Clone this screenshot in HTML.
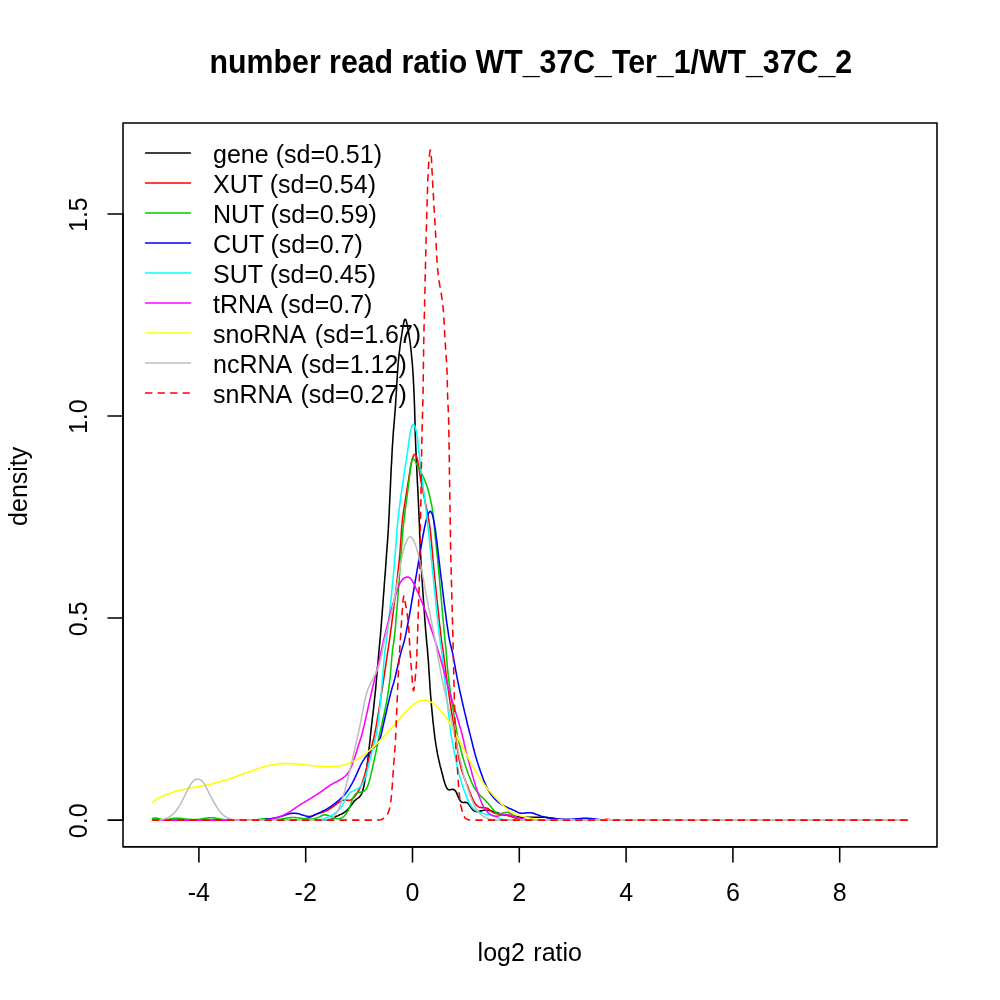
<!DOCTYPE html>
<html><head><meta charset="utf-8"><title>number read ratio</title>
<style>
html,body{margin:0;padding:0;background:#fff;}
svg{display:block;}
text{font-family:"Liberation Sans",sans-serif;fill:#000;}
</style></head><body>
<svg width="1000" height="1000" viewBox="0 0 1000 1000">
<rect width="1000" height="1000" fill="#fff"/>

<g fill="none" stroke-width="1.5625" stroke-linecap="round" stroke-linejoin="round">
<path d="M152.6,820.1 L157.1,820.1 L161.5,820.1 L166.0,820.1 L170.5,820.1 L175.0,820.1 L179.4,820.1 L183.9,820.1 L188.4,820.1 L192.9,820.1 L197.3,820.1 L201.8,820.1 L206.3,820.1 L210.8,820.1 L215.2,820.1 L219.7,820.1 L224.2,820.1 L228.7,820.1 L233.1,820.1 L237.6,820.1 L242.1,820.1 L246.6,820.1 L250.0,820.1 L250.9,820.1 L254.8,820.1 L258.8,820.1 L262.7,820.1 L266.6,820.1 L270.5,820.1 L274.5,820.1 L278.4,820.1 L282.3,820.1 L286.2,820.1 L290.2,820.1 L294.1,820.1 L298.0,820.1 L301.9,820.1 L305.9,820.1 L309.8,820.1 L313.7,820.1 L317.6,820.1 L321.6,820.1 L325.0,820.1 L325.2,820.1 L326.7,819.9 L327.9,819.8 L328.9,819.6 L329.8,819.4 L330.5,819.1 L330.6,819.1 L331.4,818.8 L332.2,818.4 L333.0,818.0 L333.8,817.6 L334.6,817.2 L334.6,817.2 L335.5,816.8 L336.3,816.4 L337.2,816.0 L338.1,815.6 L338.1,815.6 L338.9,815.2 L339.8,814.8 L340.7,814.4 L341.6,814.0 L342.2,813.7 L342.4,813.6 L343.2,813.1 L344.0,812.6 L344.8,812.1 L345.5,811.5 L345.8,811.3 L346.2,810.9 L346.9,810.3 L347.6,809.6 L348.3,808.9 L349.0,808.2 L349.0,808.1 L349.6,807.5 L350.2,806.7 L350.8,805.9 L351.4,805.1 L352.0,804.3 L352.0,804.3 L352.6,803.5 L353.2,802.6 L353.8,801.8 L354.4,801.0 L355.0,800.4 L355.1,800.4 L355.7,799.8 L356.4,799.2 L357.2,798.7 L357.9,798.2 L358.0,798.1 L358.6,797.7 L359.3,797.1 L359.9,796.4 L360.6,795.6 L361.0,795.0 L361.1,794.7 L361.7,793.6 L362.2,792.4 L362.6,791.1 L363.0,789.6 L363.4,788.1 L363.8,786.6 L364.0,785.3 L364.1,785.0 L364.4,783.5 L364.7,781.9 L364.9,780.4 L365.2,778.8 L365.4,777.2 L365.6,775.6 L365.9,774.0 L366.0,773.2 L366.1,772.4 L366.3,770.7 L366.6,769.1 L366.8,767.4 L367.0,765.6 L367.3,763.9 L367.5,762.0 L367.8,760.2 L368.0,758.3 L368.0,758.1 L368.2,756.3 L368.5,754.3 L368.7,752.3 L368.9,750.3 L369.1,748.3 L369.3,746.4 L369.5,744.6 L369.7,742.8 L369.9,741.1 L370.0,740.4 L370.1,739.6 L370.2,738.2 L370.3,736.8 L370.5,735.4 L370.6,734.0 L370.8,732.6 L370.9,730.9 L371.0,730.1 L371.1,729.1 L371.4,727.1 L371.6,724.9 L371.9,722.5 L372.2,719.9 L372.5,717.2 L372.9,714.3 L373.2,711.3 L373.6,708.3 L373.9,705.1 L374.3,701.8 L374.6,698.5 L375.0,695.2 L375.3,691.8 L375.5,690.2 L375.7,688.3 L376.0,684.9 L376.3,681.5 L376.6,678.1 L376.9,674.8 L377.2,671.6 L377.5,668.5 L377.7,665.5 L378.0,662.6 L378.2,659.9 L378.4,657.4 L378.6,655.1 L378.8,653.0 L378.9,651.1 L379.0,650.4 L379.1,649.5 L379.2,648.2 L379.3,646.9 L379.5,645.7 L379.6,644.3 L379.8,642.8 L379.9,640.9 L380.0,640.0 L380.1,638.7 L380.4,636.0 L380.6,633.0 L380.9,629.6 L381.2,625.9 L381.5,621.9 L381.8,617.7 L382.2,613.3 L382.5,608.7 L382.9,604.0 L383.2,599.2 L383.6,594.3 L384.0,589.4 L384.3,584.6 L384.7,579.8 L385.0,575.2 L385.4,570.6 L385.7,566.3 L386.0,562.1 L386.3,558.2 L386.5,555.3 L386.5,554.6 L386.8,551.3 L387.0,548.2 L387.2,545.4 L387.4,542.8 L387.6,540.3 L387.8,537.8 L387.9,535.5 L388.1,533.1 L388.2,530.7 L388.4,528.2 L388.5,525.6 L388.7,522.7 L388.8,520.1 L388.8,519.7 L389.0,516.5 L389.2,513.0 L389.3,509.3 L389.5,505.4 L389.7,501.4 L389.9,497.2 L390.1,493.0 L390.3,488.6 L390.5,484.2 L390.7,479.8 L390.9,475.3 L391.1,470.9 L391.3,466.5 L391.6,462.2 L391.8,458.0 L392.0,453.8 L392.2,449.8 L392.4,446.0 L392.7,442.4 L392.8,440.2 L392.9,438.9 L393.1,435.7 L393.3,432.7 L393.5,429.8 L393.8,427.1 L394.0,424.4 L394.2,421.9 L394.4,419.4 L394.6,417.0 L394.8,414.5 L395.0,412.1 L395.2,409.6 L395.4,407.0 L395.5,405.2 L395.6,404.3 L395.7,401.5 L395.9,398.7 L396.1,395.7 L396.3,392.7 L396.5,389.7 L396.6,386.6 L396.8,383.5 L397.0,380.4 L397.2,377.3 L397.4,374.2 L397.6,371.2 L397.8,368.3 L398.0,365.4 L398.3,362.6 L398.3,362.2 L398.5,359.9 L398.8,357.3 L399.0,354.8 L399.3,352.4 L399.6,350.1 L399.9,347.8 L400.1,345.7 L400.4,343.6 L400.7,341.5 L401.0,339.5 L401.3,337.6 L401.4,336.9 L401.6,335.7 L401.9,333.8 L402.1,332.0 L402.4,330.3 L402.7,328.6 L402.9,327.1 L403.2,325.6 L403.4,324.3 L403.5,324.2 L403.7,323.1 L403.9,322.0 L404.2,321.1 L404.4,320.3 L404.6,319.9 L404.7,319.8 L404.9,319.4 L405.1,319.2 L405.3,319.2 L405.4,319.2 L405.6,319.4 L405.8,319.8 L406.0,320.2 L406.1,320.4 L406.3,321.2 L406.6,322.1 L406.8,323.1 L407.0,324.2 L407.1,324.6 L407.3,325.4 L407.6,326.7 L407.8,328.1 L408.1,329.6 L408.4,331.1 L408.7,332.8 L408.9,334.5 L409.2,336.3 L409.2,336.4 L409.5,338.2 L409.8,340.2 L410.1,342.2 L410.3,344.4 L410.6,346.6 L410.9,348.9 L411.1,351.3 L411.4,353.8 L411.6,356.3 L411.9,359.0 L412.1,361.7 L412.2,362.3 L412.4,364.5 L412.6,367.4 L412.8,370.4 L413.0,373.4 L413.2,376.4 L413.4,379.5 L413.5,382.5 L413.7,385.6 L413.8,388.7 L414.0,391.7 L414.1,394.7 L414.2,397.6 L414.3,400.4 L414.4,403.2 L414.5,405.1 L414.5,405.9 L414.6,408.5 L414.7,411.0 L414.7,413.5 L414.8,415.9 L414.9,418.4 L414.9,420.9 L415.0,423.4 L415.0,426.0 L415.1,428.7 L415.2,431.5 L415.3,434.5 L415.4,437.7 L415.5,440.3 L415.5,441.1 L415.7,444.7 L415.8,448.4 L416.0,452.4 L416.2,456.5 L416.4,460.7 L416.6,465.0 L416.8,469.3 L417.0,473.7 L417.2,478.2 L417.4,482.6 L417.7,487.0 L417.9,491.4 L418.1,495.7 L418.3,499.9 L418.5,504.0 L418.7,507.9 L418.8,511.6 L419.0,515.2 L419.1,518.6 L419.2,520.1 L419.3,521.7 L419.4,524.5 L419.5,527.2 L419.6,529.8 L419.6,532.2 L419.7,534.6 L419.8,537.0 L419.9,539.4 L420.0,541.9 L420.1,544.5 L420.2,547.2 L420.3,550.2 L420.5,553.4 L420.6,555.3 L420.7,556.9 L420.9,560.7 L421.1,564.7 L421.4,569.0 L421.7,573.5 L422.0,578.1 L422.3,582.9 L422.6,587.7 L422.9,592.5 L423.3,597.4 L423.6,602.2 L424.0,606.9 L424.3,611.6 L424.6,616.0 L424.9,620.3 L425.2,624.4 L425.5,628.2 L425.8,631.7 L426.1,634.9 L426.3,637.7 L426.5,640.0 L426.5,640.1 L426.7,642.1 L426.8,643.8 L427.0,645.2 L427.1,646.5 L427.3,647.8 L427.4,649.1 L427.5,650.5 L427.5,650.7 L427.7,652.4 L427.8,654.5 L428.0,656.7 L428.2,659.1 L428.4,661.6 L428.6,664.3 L428.7,666.9 L428.9,669.6 L429.1,672.3 L429.3,675.0 L429.4,677.5 L429.6,680.0 L429.6,680.0 L429.7,682.3 L429.9,684.4 L430.0,686.5 L430.1,688.5 L430.3,690.5 L430.4,692.4 L430.5,694.3 L430.7,696.3 L430.9,698.4 L431.0,700.3 L431.0,700.6 L431.2,702.9 L431.4,705.3 L431.7,707.8 L431.9,710.3 L432.2,712.9 L432.4,715.5 L432.7,718.0 L432.9,720.6 L433.2,723.1 L433.5,725.5 L433.7,727.9 L434.0,730.1 L434.0,730.1 L434.2,732.2 L434.5,734.2 L434.7,736.1 L434.9,737.9 L435.2,739.6 L435.4,741.2 L435.6,742.8 L435.9,744.4 L436.0,745.3 L436.1,745.9 L436.4,747.4 L436.6,749.0 L436.9,750.5 L437.2,752.0 L437.4,753.4 L437.7,754.9 L438.0,756.2 L438.0,756.3 L438.3,757.7 L438.6,759.1 L438.9,760.4 L439.2,761.7 L439.5,763.0 L439.8,764.3 L440.0,765.2 L440.1,765.6 L440.4,766.9 L440.8,768.1 L441.1,769.4 L441.4,770.6 L441.7,771.9 L442.0,773.1 L442.0,773.1 L442.4,774.3 L442.7,775.6 L443.0,776.8 L443.3,778.0 L443.6,779.3 L443.9,780.4 L444.0,780.4 L444.3,781.6 L444.7,782.7 L445.0,783.8 L445.4,784.9 L445.8,785.9 L446.0,786.4 L446.2,786.8 L446.6,787.7 L447.1,788.5 L447.6,789.1 L448.1,789.5 L448.1,789.6 L448.7,789.8 L449.3,789.9 L449.9,789.8 L450.0,789.8 L450.5,789.7 L451.2,789.5 L451.8,789.4 L452.1,789.4 L452.4,789.4 L453.0,789.4 L453.6,789.6 L453.9,789.7 L454.2,789.8 L454.7,790.2 L455.2,790.7 L455.7,791.3 L456.0,791.8 L456.2,792.1 L456.6,792.9 L457.0,793.9 L457.4,794.9 L457.8,795.9 L458.0,796.3 L458.2,796.9 L458.7,797.9 L459.1,798.8 L459.5,799.6 L460.0,800.3 L460.0,800.4 L460.5,801.0 L461.0,801.6 L461.5,802.0 L462.0,802.3 L462.1,802.3 L462.7,802.4 L463.3,802.5 L463.9,802.4 L464.0,802.4 L464.5,802.4 L465.2,802.4 L465.8,802.4 L466.0,802.4 L466.4,802.6 L467.0,802.8 L467.6,803.2 L468.0,803.5 L468.1,803.7 L468.7,804.2 L469.2,804.9 L469.7,805.6 L470.1,806.1 L470.2,806.3 L470.7,807.1 L471.2,807.8 L471.7,808.5 L472.1,808.9 L472.2,809.1 L472.8,809.7 L473.3,810.2 L473.8,810.6 L474.0,810.7 L474.3,810.9 L474.9,811.2 L475.5,811.4 L475.9,811.5 L476.1,811.5 L476.7,811.6 L477.4,811.6 L477.9,811.5 L478.0,811.5 L478.8,811.4 L479.5,811.2 L480.3,811.1 L480.3,811.0 L481.1,810.9 L481.9,810.7 L482.7,810.5 L483.6,810.3 L484.0,810.3 L484.4,810.2 L485.3,810.2 L486.2,810.2 L487.1,810.2 L487.9,810.3 L487.9,810.3 L488.8,810.4 L489.7,810.6 L490.7,810.8 L491.6,811.0 L492.0,811.1 L492.5,811.2 L493.4,811.5 L494.3,811.8 L495.2,812.1 L496.0,812.3 L496.1,812.4 L497.0,812.7 L497.9,813.0 L498.8,813.3 L499.8,813.6 L500.1,813.7 L500.7,813.9 L501.6,814.2 L502.5,814.5 L503.5,814.7 L504.5,814.9 L505.0,815.0 L505.5,815.1 L506.5,815.3 L507.5,815.4 L508.5,815.5 L509.5,815.6 L510.0,815.7 L510.6,815.7 L511.6,815.8 L512.6,815.9 L513.6,816.0 L514.6,816.2 L514.9,816.2 L515.5,816.3 L516.4,816.5 L517.4,816.7 L518.4,816.9 L519.4,817.0 L519.9,817.1 L520.6,817.1 L521.9,817.2 L523.2,817.3 L524.7,817.3 L526.2,817.3 L527.8,817.3 L529.4,817.3 L530.2,817.3 L531.1,817.3 L532.9,817.3 L534.6,817.2 L536.4,817.2 L538.1,817.2 L539.9,817.2 L541.6,817.2 L543.3,817.3 L544.9,817.3 L544.9,817.3 L546.5,817.4 L548.1,817.6 L549.6,817.7 L551.0,817.9 L552.5,818.1 L553.8,818.3 L555.1,818.5 L555.1,818.5 L556.4,818.7 L557.6,818.9 L558.8,819.1 L559.9,819.2 L561.0,819.4 L561.9,819.5 L562.0,819.6 L563.0,819.7 L564.1,819.8 L565.2,819.9 L566.5,820.0 L568.0,820.0 L569.8,820.1 L570.0,820.1 L574.6,820.1 L579.8,820.1 L584.9,820.1 L590.1,820.1 L595.3,820.1 L600.4,820.1 L605.6,820.1 L610.8,820.1 L615.9,820.1 L621.1,820.1 L626.3,820.1 L631.4,820.1 L636.6,820.1 L641.8,820.1 L647.0,820.1 L652.1,820.1 L657.3,820.1 L662.5,820.1 L667.6,820.1 L672.8,820.1 L678.0,820.1 L683.1,820.1 L688.3,820.1 L693.5,820.1 L698.6,820.1 L700.0,820.1 L704.8,820.1 L711.3,820.1 L717.9,820.1 L724.4,820.1 L730.9,820.1 L737.4,820.1 L743.9,820.1 L750.5,820.1 L757.0,820.1 L763.5,820.1 L770.0,820.1 L776.6,820.1 L783.1,820.1 L789.6,820.1 L796.1,820.1 L802.6,820.1 L809.2,820.1 L815.7,820.1 L822.2,820.1 L828.7,820.1 L835.3,820.1 L841.8,820.1 L848.3,820.1 L854.8,820.1 L861.3,820.1 L867.9,820.1 L874.4,820.1 L880.9,820.1 L887.4,820.1 L894.0,820.1 L900.5,820.1 L907.0,820.1" stroke="#000000"/>
<path d="M152.6,820.1 L157.1,820.1 L161.7,820.1 L166.2,820.1 L170.7,820.1 L175.3,820.1 L179.8,820.1 L184.3,820.1 L188.9,820.1 L193.4,820.1 L197.9,820.1 L202.5,820.1 L207.0,820.1 L211.5,820.1 L216.1,820.1 L220.6,820.1 L225.1,820.1 L229.7,820.1 L234.2,820.1 L238.7,820.1 L243.3,820.1 L247.8,820.1 L250.0,820.1 L251.6,820.1 L254.8,820.1 L258.0,820.1 L261.2,820.1 L264.4,820.1 L267.5,820.1 L270.7,820.1 L273.9,820.1 L277.1,820.1 L280.3,820.1 L283.5,820.1 L286.6,820.1 L289.8,820.1 L293.0,820.1 L296.2,820.1 L298.0,820.1 L298.7,820.0 L300.2,819.8 L301.5,819.6 L302.7,819.4 L303.7,819.1 L304.7,818.9 L305.1,818.8 L305.7,818.6 L306.7,818.3 L307.7,818.0 L308.6,817.7 L309.6,817.4 L309.9,817.2 L310.6,817.0 L311.6,816.5 L312.5,816.0 L313.5,815.5 L314.5,815.1 L314.9,814.9 L315.5,814.7 L316.5,814.3 L317.5,813.9 L318.5,813.6 L319.5,813.2 L320.1,813.1 L320.5,812.9 L321.5,812.6 L322.5,812.3 L323.5,811.9 L324.5,811.5 L325.0,811.3 L325.5,811.1 L326.5,810.7 L327.4,810.2 L328.4,809.7 L329.3,809.1 L329.9,808.8 L330.3,808.5 L331.2,807.9 L332.1,807.3 L333.1,806.6 L334.0,806.0 L334.9,805.3 L335.0,805.2 L335.8,804.6 L336.8,803.9 L337.7,803.2 L338.6,802.5 L339.6,801.9 L340.1,801.6 L340.5,801.4 L341.5,800.9 L342.4,800.5 L343.4,800.2 L344.4,800.1 L344.9,800.0 L345.4,800.0 L346.5,800.1 L347.5,800.2 L348.5,800.3 L349.5,800.2 L349.8,800.2 L350.4,800.0 L351.2,799.6 L352.1,799.0 L352.8,798.4 L353.2,798.0 L353.6,797.6 L354.3,796.9 L355.0,796.1 L355.7,795.2 L356.3,794.4 L356.9,793.5 L357.0,793.4 L357.5,792.5 L358.1,791.5 L358.7,790.5 L359.2,789.5 L359.8,788.4 L359.9,788.1 L360.3,787.3 L360.8,786.2 L361.3,785.0 L361.8,783.8 L362.3,782.5 L362.7,781.2 L363.0,780.4 L363.2,779.9 L363.6,778.6 L364.0,777.2 L364.5,775.8 L364.9,774.3 L365.3,772.8 L365.7,771.3 L366.0,770.3 L366.1,769.8 L366.5,768.2 L366.9,766.6 L367.3,765.0 L367.7,763.3 L368.1,761.7 L368.5,760.0 L368.9,758.4 L369.0,757.8 L369.3,756.7 L369.7,755.1 L370.1,753.5 L370.4,751.9 L370.8,750.3 L371.2,748.7 L371.5,747.2 L371.9,745.7 L372.0,745.3 L372.2,744.3 L372.6,742.9 L372.9,741.5 L373.3,740.0 L373.7,738.5 L374.0,736.8 L374.4,735.1 L374.8,733.1 L374.9,732.6 L375.3,731.0 L375.7,728.6 L376.2,726.1 L376.6,723.5 L377.1,720.6 L377.6,717.7 L378.1,714.6 L378.7,711.4 L379.2,708.2 L379.7,704.9 L380.3,701.5 L380.8,698.1 L381.3,694.6 L381.8,691.2 L382.1,689.6 L382.4,687.8 L382.9,684.4 L383.4,681.0 L383.9,677.7 L384.4,674.5 L384.8,671.3 L385.3,668.3 L385.7,665.4 L386.1,662.6 L386.5,660.0 L386.9,657.6 L387.2,655.3 L387.5,653.2 L387.8,651.4 L387.9,650.9 L388.1,649.8 L388.3,648.3 L388.5,647.0 L388.7,645.6 L388.9,644.1 L389.2,642.3 L389.5,640.3 L389.6,639.8 L389.8,637.9 L390.2,635.1 L390.6,631.9 L391.1,628.4 L391.6,624.6 L392.1,620.6 L392.7,616.3 L393.3,611.8 L393.8,607.2 L394.4,602.5 L395.0,597.7 L395.6,592.8 L396.2,588.0 L396.7,583.1 L397.3,578.4 L397.8,573.7 L398.3,569.1 L398.8,564.8 L399.2,560.6 L399.6,556.7 L399.7,555.3 L399.9,553.0 L400.2,549.6 L400.4,546.4 L400.6,543.5 L400.8,540.7 L401.0,538.0 L401.1,535.5 L401.3,533.0 L401.5,530.6 L401.6,528.2 L401.8,525.8 L402.1,523.4 L402.3,520.9 L402.4,520.2 L402.6,518.2 L403.0,515.5 L403.4,512.6 L403.8,509.7 L404.2,506.8 L404.7,503.8 L405.2,500.8 L405.7,497.8 L406.2,494.8 L406.6,491.8 L407.1,488.9 L407.6,486.0 L408.0,483.3 L408.4,480.6 L408.5,480.3 L408.8,478.0 L409.2,475.6 L409.5,473.3 L409.9,471.1 L410.2,469.0 L410.5,467.0 L410.9,465.0 L411.2,463.2 L411.6,461.5 L412.0,459.9 L412.0,459.8 L412.5,458.3 L413.0,456.9 L413.5,455.7 L414.0,454.8 L414.5,454.3 L414.9,454.2 L415.0,454.2 L415.5,454.6 L416.0,455.3 L416.5,456.4 L416.9,457.8 L417.3,459.3 L417.5,459.9 L417.7,460.9 L418.0,462.6 L418.4,464.4 L418.7,466.3 L419.0,468.3 L419.3,470.3 L419.6,472.5 L419.9,474.8 L420.3,477.2 L420.7,479.7 L420.8,480.3 L421.2,482.3 L421.7,485.1 L422.2,487.9 L422.8,490.8 L423.4,493.7 L424.1,496.7 L424.7,499.7 L425.3,502.7 L426.0,505.7 L426.6,508.6 L427.2,511.5 L427.7,514.4 L428.3,517.2 L428.7,519.8 L428.8,520.2 L429.2,522.4 L429.5,524.8 L429.9,527.2 L430.2,529.6 L430.5,532.0 L430.7,534.4 L431.0,536.9 L431.2,539.5 L431.5,542.2 L431.7,545.1 L432.0,548.2 L432.3,551.5 L432.6,555.1 L432.6,555.2 L432.9,558.9 L433.3,563.0 L433.7,567.4 L434.2,571.9 L434.6,576.5 L435.1,581.3 L435.6,586.2 L436.1,591.1 L436.6,596.0 L437.1,600.9 L437.6,605.7 L438.1,610.4 L438.6,614.9 L439.1,619.3 L439.5,623.5 L440.0,627.4 L440.4,631.0 L440.8,634.3 L441.1,637.2 L441.4,639.7 L441.5,640.1 L441.7,641.8 L442.0,643.6 L442.2,645.1 L442.4,646.4 L442.6,647.6 L442.8,648.8 L443.0,650.1 L443.0,650.3 L443.2,651.7 L443.4,653.4 L443.7,655.3 L444.0,657.4 L444.2,659.7 L444.5,662.1 L444.9,664.7 L445.2,667.5 L445.6,670.4 L446.0,673.5 L446.4,676.6 L446.9,679.9 L446.9,680.2 L447.3,683.4 L447.8,686.9 L448.4,690.4 L448.9,694.0 L449.4,697.6 L449.9,701.2 L450.5,704.8 L451.0,708.3 L451.5,711.7 L452.1,715.0 L452.5,718.2 L453.0,721.2 L453.5,724.0 L453.9,726.5 L454.3,728.9 L454.4,730.1 L454.6,731.0 L454.9,732.8 L455.2,734.4 L455.4,735.9 L455.6,737.2 L455.8,738.5 L456.0,739.8 L456.1,740.5 L456.2,741.2 L456.5,742.6 L456.7,744.0 L456.9,745.5 L457.1,747.1 L457.4,748.6 L457.6,750.2 L457.9,751.8 L457.9,751.9 L458.1,753.4 L458.4,755.0 L458.7,756.6 L459.0,758.2 L459.2,759.8 L459.5,761.3 L459.8,762.8 L460.0,763.3 L460.2,764.2 L460.5,765.6 L460.8,766.9 L461.1,768.2 L461.5,769.4 L461.8,770.6 L462.0,771.3 L462.2,771.8 L462.5,772.9 L462.9,774.0 L463.3,775.0 L463.7,776.1 L464.0,777.1 L464.1,777.2 L464.4,778.1 L464.8,779.1 L465.2,780.1 L465.6,781.1 L466.0,782.0 L466.0,782.1 L466.4,783.0 L466.7,784.0 L467.1,784.9 L467.5,785.9 L467.9,786.9 L468.0,787.1 L468.3,787.9 L468.7,788.9 L469.1,790.0 L469.5,791.0 L469.8,792.0 L469.9,792.3 L470.2,793.0 L470.6,794.1 L471.0,795.1 L471.4,796.1 L471.8,797.1 L472.0,797.3 L472.3,798.0 L472.7,799.0 L473.1,799.9 L473.5,800.7 L474.0,801.6 L474.0,801.7 L474.4,802.4 L474.9,803.1 L475.4,803.8 L475.9,804.5 L476.0,804.7 L476.4,805.1 L476.9,805.6 L477.5,806.1 L478.0,806.5 L478.1,806.5 L478.7,806.9 L479.3,807.2 L480.1,807.4 L480.1,807.4 L480.9,807.5 L481.7,807.6 L482.6,807.6 L483.4,807.7 L483.8,807.7 L484.3,807.7 L485.2,807.8 L486.1,808.0 L486.9,808.2 L487.1,808.2 L487.7,808.5 L488.4,808.9 L489.1,809.4 L489.8,809.9 L490.1,810.1 L490.5,810.5 L491.2,811.1 L491.8,811.6 L492.5,812.1 L492.9,812.3 L493.3,812.5 L494.0,812.9 L494.9,813.2 L495.7,813.4 L496.1,813.5 L496.5,813.7 L497.4,813.8 L498.3,814.0 L499.3,814.1 L500.1,814.2 L500.2,814.2 L501.2,814.3 L502.1,814.5 L503.1,814.6 L504.1,814.7 L504.9,814.9 L505.1,814.9 L506.2,815.1 L507.2,815.3 L508.2,815.6 L509.3,815.9 L510.0,816.1 L510.4,816.2 L511.4,816.6 L512.5,817.0 L513.6,817.4 L514.8,817.8 L515.9,818.2 L516.1,818.2 L517.2,818.5 L518.4,818.8 L519.7,819.1 L520.9,819.3 L522.1,819.5 L523.3,819.7 L523.8,819.7 L524.5,819.8 L525.6,819.9 L526.8,819.9 L528.1,820.0 L529.6,820.0 L531.4,820.1 L533.5,820.1 L535.0,820.1 L536.5,820.1 L540.2,820.1 L543.9,820.1 L547.6,820.1 L551.3,820.1 L555.0,820.1 L558.7,820.1 L562.4,820.1 L566.1,820.1 L569.8,820.1 L573.5,820.1 L577.2,820.1 L580.9,820.1 L584.6,820.1 L588.3,820.1 L592.0,820.1 L595.7,820.1 L599.4,820.1 L600.0,820.1 L601.4,820.0 L602.7,819.8 L603.6,819.7 L604.4,819.5 L604.7,819.5 L605.0,819.4 L605.7,819.3 L606.3,819.2 L606.9,819.2 L607.1,819.2 L607.5,819.2 L608.0,819.2 L608.5,819.3 L609.1,819.4 L609.2,819.5 L609.9,819.6 L610.8,819.7 L611.9,819.9 L613.2,820.0 L614.0,820.1 L616.2,820.1 L620.4,820.1 L624.7,820.1 L629.0,820.1 L633.2,820.1 L637.5,820.1 L641.7,820.1 L646.0,820.1 L650.3,820.1 L654.5,820.1 L658.8,820.1 L663.0,820.1 L667.3,820.1 L671.6,820.1 L675.8,820.1 L680.1,820.1 L684.3,820.1 L688.6,820.1 L692.9,820.1 L697.1,820.1 L700.0,820.1 L702.1,820.1 L708.7,820.1 L715.4,820.1 L722.0,820.1 L728.6,820.1 L735.2,820.1 L741.8,820.1 L748.4,820.1 L755.0,820.1 L761.6,820.1 L768.2,820.1 L774.8,820.1 L781.4,820.1 L788.0,820.1 L794.7,820.1 L801.3,820.1 L807.9,820.1 L814.5,820.1 L821.1,820.1 L827.7,820.1 L834.3,820.1 L840.9,820.1 L847.5,820.1 L854.1,820.1 L860.7,820.1 L867.3,820.1 L874.0,820.1 L880.6,820.1 L887.2,820.1 L893.8,820.1 L900.4,820.1 L907.0,820.1" stroke="#ff0000"/>
<path d="M152.6,818.5 L153.4,818.2 L154.3,818.1 L155.2,818.0 L156.2,818.1 L157.2,818.3 L158.0,818.5 L158.2,818.6 L159.3,818.8 L160.4,819.1 L161.5,819.4 L162.6,819.6 L163.6,819.8 L164.7,819.9 L165.1,819.9 L165.8,819.8 L166.8,819.7 L167.8,819.5 L168.8,819.3 L169.9,819.0 L170.9,818.8 L171.8,818.6 L171.9,818.6 L172.9,818.4 L174.0,818.3 L175.0,818.2 L176.1,818.2 L177.2,818.2 L178.3,818.3 L178.7,818.3 L179.4,818.3 L180.5,818.4 L181.6,818.5 L182.7,818.7 L183.8,818.8 L185.0,819.0 L186.1,819.1 L186.2,819.1 L187.3,819.2 L188.4,819.3 L189.6,819.4 L190.7,819.5 L191.9,819.6 L193.1,819.6 L194.3,819.6 L194.9,819.6 L195.4,819.6 L196.6,819.5 L197.8,819.4 L199.0,819.2 L200.2,819.1 L201.4,818.9 L202.6,818.7 L203.7,818.5 L203.8,818.5 L204.9,818.3 L206.1,818.2 L207.2,818.0 L208.4,817.9 L209.5,817.8 L210.6,817.8 L211.3,817.8 L211.7,817.8 L212.8,817.8 L213.9,817.9 L215.0,818.0 L216.0,818.2 L217.1,818.4 L218.1,818.6 L218.8,818.7 L219.2,818.8 L220.2,819.0 L221.3,819.2 L222.4,819.4 L223.6,819.6 L224.9,819.8 L226.2,819.9 L227.8,820.1 L228.0,820.1 L229.6,820.1 L231.5,820.1 L233.4,820.1 L235.3,820.1 L237.2,820.1 L239.1,820.1 L241.0,820.1 L242.9,820.1 L244.7,820.1 L246.6,820.1 L248.5,820.1 L250.0,820.1 L250.3,820.1 L251.8,820.0 L253.0,820.0 L254.2,819.9 L255.3,819.8 L256.3,819.7 L257.3,819.6 L258.1,819.5 L258.3,819.5 L259.3,819.3 L260.4,819.2 L261.4,819.0 L262.5,818.9 L263.6,818.7 L264.8,818.7 L265.8,818.6 L266.0,818.6 L267.2,818.7 L268.4,818.8 L269.7,818.9 L270.9,819.0 L272.1,819.2 L273.4,819.3 L274.4,819.4 L274.6,819.4 L275.7,819.4 L276.8,819.4 L277.9,819.4 L279.0,819.3 L280.0,819.2 L281.0,819.1 L281.9,818.9 L282.0,818.9 L282.9,818.8 L283.9,818.6 L284.8,818.4 L285.8,818.3 L286.7,818.1 L287.7,817.9 L287.7,817.9 L288.6,817.8 L289.5,817.7 L290.5,817.6 L291.5,817.5 L292.5,817.5 L293.1,817.5 L293.5,817.5 L294.5,817.5 L295.6,817.6 L296.7,817.7 L297.8,817.8 L298.9,818.0 L300.0,818.1 L300.2,818.2 L301.1,818.3 L302.2,818.5 L303.4,818.6 L304.5,818.8 L305.6,818.9 L306.7,819.0 L307.8,819.1 L308.1,819.1 L308.9,819.1 L310.0,819.2 L311.1,819.1 L312.1,819.1 L313.1,818.9 L314.1,818.8 L314.9,818.6 L315.1,818.5 L316.0,818.2 L316.9,817.9 L317.8,817.5 L318.7,817.1 L319.6,816.6 L319.9,816.4 L320.4,816.2 L321.2,815.9 L322.0,815.5 L322.8,815.2 L323.7,815.0 L324.5,814.9 L324.6,814.9 L325.3,814.9 L326.1,815.0 L327.0,815.1 L327.8,815.4 L328.1,815.5 L328.6,815.6 L329.5,816.0 L330.3,816.3 L331.2,816.7 L332.0,817.1 L332.5,817.3 L332.8,817.4 L333.7,817.8 L334.5,818.1 L335.3,818.4 L336.1,818.6 L336.9,818.8 L337.2,818.8 L337.7,818.8 L338.5,818.8 L339.3,818.7 L340.0,818.6 L340.8,818.3 L341.4,818.0 L341.5,818.0 L342.2,817.6 L342.9,817.1 L343.6,816.6 L344.3,816.0 L344.8,815.5 L344.9,815.3 L345.5,814.6 L346.1,813.9 L346.7,813.0 L347.2,812.2 L347.8,811.2 L348.3,810.3 L348.3,810.3 L348.7,809.2 L349.2,808.2 L349.6,807.1 L350.0,806.0 L350.4,804.9 L350.8,803.8 L351.2,802.7 L351.3,802.4 L351.6,801.6 L352.0,800.5 L352.4,799.5 L352.8,798.5 L353.2,797.6 L353.7,796.7 L354.0,796.1 L354.1,795.8 L354.6,795.1 L355.1,794.4 L355.7,793.8 L356.3,793.4 L356.8,793.1 L356.9,793.0 L357.6,792.7 L358.3,792.5 L359.1,792.4 L359.8,792.3 L360.0,792.3 L360.6,792.2 L361.3,792.1 L362.1,792.0 L362.8,791.8 L363.1,791.7 L363.5,791.5 L364.1,791.1 L364.7,790.6 L365.3,790.0 L365.8,789.4 L366.0,789.1 L366.3,788.6 L366.8,787.8 L367.3,786.9 L367.7,785.9 L368.1,784.9 L368.5,783.8 L368.9,782.6 L369.0,782.4 L369.3,781.4 L369.6,780.1 L370.0,778.8 L370.3,777.5 L370.6,776.1 L371.0,774.7 L371.3,773.2 L371.6,771.7 L371.9,770.3 L372.0,770.2 L372.3,768.7 L372.6,767.2 L373.0,765.6 L373.3,764.0 L373.7,762.5 L374.0,760.9 L374.3,759.4 L374.7,757.8 L375.0,756.3 L375.1,755.8 L375.3,754.7 L375.7,753.2 L376.0,751.7 L376.3,750.3 L376.6,748.8 L376.9,747.4 L377.2,746.1 L377.5,744.7 L377.7,743.4 L377.9,742.6 L378.0,742.2 L378.2,741.0 L378.5,739.8 L378.7,738.5 L378.9,737.3 L379.2,736.0 L379.5,734.6 L379.8,733.0 L380.0,732.0 L380.2,731.4 L380.6,729.5 L381.1,727.6 L381.5,725.4 L382.1,723.2 L382.6,720.8 L383.1,718.4 L383.7,715.8 L384.3,713.1 L384.9,710.4 L385.4,707.6 L386.0,704.7 L386.6,701.8 L387.1,698.8 L387.6,695.8 L388.1,692.7 L388.5,690.2 L388.6,689.6 L389.0,686.6 L389.4,683.5 L389.7,680.5 L390.1,677.5 L390.4,674.5 L390.6,671.6 L390.9,668.8 L391.1,666.1 L391.3,663.5 L391.5,661.0 L391.7,658.7 L391.9,656.5 L392.1,654.5 L392.3,652.6 L392.4,651.0 L392.5,650.2 L392.6,649.6 L392.7,648.4 L392.9,647.3 L393.1,646.2 L393.3,645.1 L393.5,643.9 L393.7,642.5 L393.9,640.9 L394.0,640.2 L394.1,639.0 L394.4,636.7 L394.7,634.1 L395.0,631.2 L395.3,628.1 L395.6,624.7 L395.9,621.1 L396.2,617.4 L396.5,613.4 L396.9,609.4 L397.2,605.2 L397.6,601.0 L397.9,596.6 L398.2,592.3 L398.6,588.0 L398.9,583.7 L399.2,579.4 L399.5,575.2 L399.8,571.1 L400.1,567.1 L400.4,563.3 L400.7,559.7 L400.9,556.2 L401.0,555.2 L401.2,553.0 L401.4,550.0 L401.6,547.2 L401.8,544.5 L402.0,542.0 L402.1,539.7 L402.3,537.4 L402.5,535.2 L402.7,533.1 L402.9,531.0 L403.1,528.9 L403.3,526.8 L403.5,524.6 L403.7,522.4 L404.0,520.2 L404.0,520.1 L404.3,517.8 L404.6,515.3 L404.9,512.7 L405.2,510.1 L405.6,507.4 L405.9,504.7 L406.3,502.0 L406.7,499.3 L407.0,496.6 L407.4,494.0 L407.7,491.4 L408.0,488.8 L408.3,486.4 L408.6,484.0 L408.9,481.8 L409.1,480.3 L409.2,479.7 L409.4,477.7 L409.6,475.9 L409.8,474.2 L410.0,472.5 L410.1,471.0 L410.3,469.5 L410.5,468.1 L410.7,466.8 L410.9,465.5 L411.0,465.0 L411.1,464.2 L411.4,462.9 L411.6,461.8 L411.9,460.8 L412.2,460.0 L412.6,459.4 L412.9,459.0 L413.0,459.0 L413.4,459.0 L413.8,459.2 L414.2,459.6 L414.6,460.1 L414.6,460.2 L415.0,460.8 L415.5,461.6 L415.9,462.5 L416.4,463.5 L416.9,464.5 L416.9,464.6 L417.5,465.6 L418.1,466.8 L418.7,468.0 L419.4,469.3 L420.1,470.6 L420.8,471.9 L421.5,473.3 L422.2,474.6 L422.9,476.0 L423.1,476.5 L423.5,477.3 L424.1,478.7 L424.7,480.0 L425.2,481.3 L425.7,482.7 L426.2,484.0 L426.7,485.3 L427.1,486.6 L427.3,487.2 L427.5,487.9 L427.9,489.3 L428.3,490.6 L428.6,491.9 L429.0,493.2 L429.3,494.5 L429.6,495.8 L429.9,497.1 L430.2,498.5 L430.4,499.0 L430.5,499.8 L430.8,501.1 L431.1,502.5 L431.4,503.9 L431.7,505.3 L432.0,506.8 L432.2,508.4 L432.5,510.0 L432.7,511.7 L432.8,512.4 L433.0,513.6 L433.2,515.5 L433.4,517.4 L433.6,519.5 L433.8,521.5 L434.0,523.6 L434.2,525.7 L434.4,527.7 L434.6,529.7 L434.8,531.6 L434.9,533.5 L435.1,535.3 L435.2,536.1 L435.3,536.9 L435.4,538.4 L435.6,539.9 L435.7,541.4 L435.9,542.8 L436.1,544.4 L436.2,546.0 L436.4,547.7 L436.6,549.7 L436.9,551.9 L437.1,554.3 L437.2,555.2 L437.4,557.0 L437.7,560.1 L438.0,563.4 L438.3,566.9 L438.7,570.7 L439.0,574.7 L439.4,578.7 L439.8,583.0 L440.2,587.3 L440.6,591.6 L441.0,596.0 L441.4,600.4 L441.8,604.7 L442.1,609.0 L442.5,613.2 L442.9,617.3 L443.2,621.2 L443.6,624.9 L443.9,628.4 L444.2,631.6 L444.5,634.6 L444.7,637.3 L444.9,639.6 L445.0,640.2 L445.1,641.6 L445.3,643.2 L445.4,644.6 L445.6,645.8 L445.7,646.9 L445.8,647.9 L445.9,649.0 L446.0,650.1 L446.0,650.2 L446.1,651.4 L446.2,652.9 L446.3,654.5 L446.5,656.2 L446.6,658.2 L446.8,660.2 L447.0,662.4 L447.2,664.7 L447.4,667.2 L447.6,669.7 L447.9,672.4 L448.2,675.2 L448.6,678.1 L448.8,680.2 L448.9,681.1 L449.3,684.1 L449.7,687.3 L450.2,690.5 L450.6,693.7 L451.1,696.9 L451.6,700.1 L452.1,703.3 L452.5,706.5 L453.0,709.6 L453.5,712.6 L454.0,715.5 L454.4,718.2 L454.9,720.9 L455.3,723.3 L455.7,725.6 L456.1,727.7 L456.4,729.6 L456.5,730.2 L456.7,731.2 L456.9,732.6 L457.1,733.8 L457.4,734.9 L457.6,736.0 L457.8,736.9 L458.0,737.9 L458.1,738.3 L458.2,738.9 L458.4,739.9 L458.7,741.0 L458.9,742.1 L459.2,743.3 L459.5,744.4 L459.8,745.6 L459.9,746.2 L460.1,746.7 L460.4,747.9 L460.7,749.0 L460.9,750.1 L461.2,751.2 L461.5,752.3 L461.8,753.4 L462.0,754.1 L462.1,754.5 L462.4,755.6 L462.7,756.7 L463.0,757.7 L463.3,758.8 L463.6,759.8 L463.9,760.8 L464.0,761.2 L464.2,761.8 L464.5,762.8 L464.9,763.9 L465.2,764.8 L465.5,765.8 L465.8,766.8 L466.0,767.3 L466.1,767.8 L466.4,768.7 L466.8,769.7 L467.1,770.6 L467.4,771.5 L467.7,772.5 L468.0,773.2 L468.1,773.4 L468.4,774.3 L468.8,775.2 L469.1,776.1 L469.4,776.9 L469.8,777.8 L470.0,778.3 L470.1,778.7 L470.5,779.5 L470.8,780.4 L471.2,781.2 L471.5,782.0 L471.9,782.8 L472.0,783.1 L472.3,783.6 L472.7,784.4 L473.0,785.2 L473.4,785.9 L473.8,786.7 L474.0,787.1 L474.2,787.4 L474.6,788.1 L475.0,788.8 L475.4,789.4 L475.9,790.1 L476.0,790.2 L476.3,790.7 L476.7,791.3 L477.2,791.9 L477.6,792.5 L478.0,792.9 L478.1,793.0 L478.6,793.6 L479.1,794.1 L479.6,794.7 L480.1,795.2 L480.1,795.3 L480.6,795.8 L481.1,796.3 L481.7,796.8 L482.2,797.4 L482.8,797.9 L482.9,798.1 L483.4,798.5 L484.0,799.1 L484.6,799.7 L485.2,800.3 L485.8,800.9 L486.0,801.1 L486.4,801.5 L487.0,802.1 L487.6,802.8 L488.2,803.4 L488.8,804.1 L489.0,804.4 L489.3,804.7 L489.9,805.4 L490.4,806.1 L491.0,806.8 L491.5,807.5 L492.0,808.1 L492.0,808.2 L492.6,808.9 L493.1,809.6 L493.7,810.3 L494.3,810.9 L494.8,811.6 L495.0,811.7 L495.4,812.1 L496.0,812.7 L496.7,813.1 L497.3,813.4 L498.0,813.7 L498.0,813.7 L498.6,813.8 L499.3,813.9 L500.0,813.8 L500.7,813.7 L500.9,813.6 L501.5,813.5 L502.2,813.3 L502.9,813.1 L503.6,812.9 L504.1,812.7 L504.3,812.7 L505.0,812.5 L505.7,812.4 L506.4,812.3 L507.1,812.3 L507.1,812.3 L507.8,812.3 L508.4,812.5 L509.0,812.7 L509.6,813.0 L509.9,813.2 L510.2,813.4 L510.9,813.7 L511.5,814.2 L512.1,814.6 L512.7,815.1 L512.8,815.1 L513.4,815.5 L514.0,816.0 L514.7,816.5 L515.4,816.9 L516.1,817.2 L516.2,817.3 L517.0,817.7 L517.8,818.0 L518.6,818.3 L519.4,818.5 L520.3,818.7 L520.3,818.8 L521.2,819.0 L522.1,819.1 L523.0,819.3 L523.9,819.4 L524.8,819.5 L525.7,819.7 L525.7,819.7 L526.6,819.7 L527.5,819.8 L528.5,819.9 L529.6,819.9 L530.9,820.0 L532.4,820.0 L534.0,820.1 L535.0,820.1 L537.5,820.1 L542.7,820.1 L547.9,820.1 L553.1,820.1 L558.3,820.1 L563.5,820.1 L568.6,820.1 L573.8,820.1 L579.0,820.1 L584.2,820.1 L589.4,820.1 L594.6,820.1 L599.7,820.1 L604.9,820.1 L610.1,820.1 L615.3,820.1 L620.5,820.1 L625.7,820.1 L630.8,820.1 L636.0,820.1 L641.2,820.1 L646.4,820.1 L651.6,820.1 L656.8,820.1 L661.9,820.1 L667.1,820.1 L672.3,820.1 L677.5,820.1 L682.7,820.1 L687.9,820.1 L693.0,820.1 L698.2,820.1 L700.0,820.1 L703.8,820.1 L709.6,820.1 L715.4,820.1 L721.2,820.1 L727.0,820.1 L732.8,820.1 L738.6,820.1 L744.4,820.1 L750.3,820.1 L756.1,820.1 L761.9,820.1 L767.7,820.1 L773.5,820.1 L779.3,820.1 L785.1,820.1 L790.9,820.1 L796.7,820.1 L802.5,820.1 L808.3,820.1 L814.1,820.1 L819.9,820.1 L825.7,820.1 L831.5,820.1 L837.3,820.1 L843.1,820.1 L848.9,820.1 L854.8,820.1 L860.6,820.1 L866.4,820.1 L872.2,820.1 L878.0,820.1 L883.8,820.1 L889.6,820.1 L895.4,820.1 L901.2,820.1 L907.0,820.1" stroke="#00cd00"/>
<path d="M152.6,820.1 L156.2,820.1 L159.9,820.1 L163.5,820.1 L167.1,820.1 L170.7,820.1 L174.4,820.1 L178.0,820.1 L181.6,820.1 L185.2,820.1 L188.9,820.1 L192.5,820.1 L196.1,820.1 L199.8,820.1 L203.4,820.1 L207.0,820.1 L210.6,820.1 L214.3,820.1 L217.9,820.1 L220.0,820.1 L221.1,820.1 L223.9,820.1 L226.6,820.1 L229.3,820.1 L232.0,820.1 L234.8,820.1 L237.5,820.1 L240.2,820.1 L242.9,820.1 L245.6,820.1 L248.4,820.1 L251.1,820.1 L253.8,820.1 L256.5,820.1 L258.0,820.1 L258.9,820.0 L260.6,819.9 L262.3,819.8 L263.8,819.6 L265.3,819.4 L266.7,819.2 L268.1,819.0 L269.5,818.8 L270.0,818.7 L270.9,818.6 L272.2,818.4 L273.6,818.1 L275.0,817.9 L276.4,817.6 L277.8,817.3 L279.1,816.9 L280.0,816.7 L280.5,816.6 L281.8,816.2 L283.0,815.8 L284.3,815.3 L285.5,814.9 L286.7,814.5 L287.8,814.2 L288.0,814.1 L288.9,813.9 L290.0,813.6 L291.1,813.4 L292.1,813.3 L293.1,813.2 L293.9,813.2 L294.1,813.2 L295.2,813.2 L296.2,813.4 L297.3,813.5 L298.5,813.8 L299.7,814.1 L300.1,814.2 L300.9,814.5 L302.2,814.9 L303.5,815.3 L304.9,815.8 L306.2,816.1 L307.5,816.4 L308.7,816.5 L309.0,816.6 L309.8,816.5 L310.9,816.4 L311.9,816.1 L312.8,815.7 L313.8,815.3 L314.7,814.8 L314.7,814.8 L315.7,814.3 L316.8,813.9 L317.8,813.4 L318.9,812.9 L320.0,812.4 L320.4,812.2 L321.2,811.9 L322.3,811.3 L323.5,810.7 L324.8,810.1 L326.0,809.4 L327.3,808.7 L328.6,807.9 L329.8,807.1 L329.9,807.0 L331.3,806.1 L332.6,805.2 L334.0,804.2 L335.3,803.1 L336.6,802.1 L337.8,801.1 L339.0,800.2 L340.0,799.2 L340.1,799.2 L341.0,798.4 L341.9,797.6 L342.7,796.8 L343.5,796.0 L344.2,795.1 L345.0,794.3 L345.0,794.3 L345.7,793.3 L346.5,792.4 L347.2,791.3 L348.0,790.2 L348.7,789.1 L349.5,787.9 L349.9,787.1 L350.2,786.7 L350.9,785.4 L351.7,784.1 L352.4,782.8 L353.1,781.5 L353.8,780.2 L354.4,778.9 L355.1,777.5 L355.2,777.2 L355.7,776.2 L356.3,774.8 L356.9,773.5 L357.5,772.2 L358.1,770.9 L358.6,769.6 L359.2,768.3 L359.7,767.3 L359.8,767.0 L360.4,765.7 L361.0,764.5 L361.6,763.3 L362.3,762.1 L363.0,760.9 L363.7,759.8 L364.1,759.1 L364.4,758.6 L365.2,757.5 L366.0,756.5 L366.9,755.4 L367.7,754.4 L368.6,753.4 L369.5,752.4 L370.0,751.8 L370.4,751.4 L371.3,750.4 L372.1,749.5 L373.0,748.5 L373.9,747.6 L374.7,746.6 L375.3,745.9 L375.5,745.7 L376.3,744.7 L377.0,743.8 L377.7,742.8 L378.3,741.9 L378.9,740.9 L379.4,739.9 L379.6,739.5 L379.9,738.9 L380.3,737.8 L380.6,736.7 L381.0,735.5 L381.3,734.0 L381.7,732.4 L382.1,730.5 L382.2,730.0 L382.5,728.4 L383.1,726.0 L383.7,723.3 L384.3,720.5 L385.0,717.5 L385.7,714.5 L386.4,711.4 L387.1,708.3 L387.8,705.2 L388.5,702.2 L389.2,699.4 L389.8,696.7 L390.5,694.2 L391.0,691.9 L391.4,690.4 L391.6,690.0 L392.0,688.3 L392.4,686.9 L392.8,685.6 L393.2,684.4 L393.6,683.1 L394.0,681.7 L394.4,680.1 L394.4,680.0 L394.9,678.2 L395.4,676.1 L395.9,673.8 L396.5,671.3 L397.1,668.7 L397.7,666.1 L398.3,663.4 L398.9,660.8 L399.5,658.2 L400.1,655.8 L400.7,653.6 L401.2,651.6 L401.5,650.4 L401.6,649.8 L402.1,648.4 L402.5,647.1 L402.9,645.9 L403.2,644.7 L403.6,643.3 L404.1,641.8 L404.5,640.1 L404.5,640.0 L405.0,637.8 L405.6,635.2 L406.2,632.3 L406.8,629.0 L407.5,625.5 L408.2,621.8 L408.9,617.8 L409.7,613.6 L410.5,609.3 L411.2,604.8 L412.0,600.2 L412.8,595.6 L413.6,590.9 L414.4,586.2 L415.2,581.5 L416.0,576.9 L416.8,572.3 L417.5,567.8 L418.3,563.5 L419.0,559.3 L419.6,555.3 L419.6,555.3 L420.3,551.5 L420.9,547.9 L421.5,544.5 L422.0,541.4 L422.5,538.4 L423.0,535.6 L423.5,533.0 L424.0,530.5 L424.4,528.3 L424.8,526.2 L425.3,524.2 L425.7,522.4 L426.1,520.8 L426.3,520.0 L426.5,519.3 L426.9,517.9 L427.3,516.7 L427.7,515.5 L428.1,514.5 L428.5,513.6 L428.7,513.1 L428.9,512.8 L429.3,512.2 L429.7,511.6 L430.1,511.4 L430.4,511.3 L430.6,511.4 L430.9,511.7 L431.3,512.2 L431.7,512.9 L431.8,513.1 L432.0,513.7 L432.4,514.6 L432.7,515.6 L433.0,516.8 L433.3,518.0 L433.6,519.4 L433.7,520.0 L433.9,521.0 L434.2,522.6 L434.5,524.5 L434.8,526.4 L435.2,528.6 L435.5,530.9 L435.8,533.4 L436.1,536.0 L436.5,538.8 L436.9,541.8 L437.3,545.1 L437.7,548.5 L438.1,552.1 L438.5,555.3 L438.5,555.9 L439.0,559.9 L439.5,564.1 L440.0,568.5 L440.5,573.0 L441.1,577.6 L441.7,582.2 L442.2,586.9 L442.8,591.6 L443.4,596.3 L443.9,600.9 L444.5,605.5 L445.1,609.9 L445.7,614.2 L446.2,618.4 L446.7,622.3 L447.3,626.1 L447.8,629.6 L448.3,632.8 L448.7,635.7 L449.2,638.3 L449.5,640.1 L449.6,640.5 L450.0,642.4 L450.3,644.0 L450.7,645.3 L451.0,646.5 L451.3,647.7 L451.6,648.9 L452.0,650.2 L452.0,650.3 L452.3,651.6 L452.6,653.2 L453.0,655.0 L453.3,657.0 L453.7,659.2 L454.1,661.5 L454.6,663.9 L455.0,666.5 L455.5,669.3 L456.1,672.2 L456.6,675.2 L457.2,678.3 L457.6,680.2 L457.9,681.6 L458.6,685.1 L459.3,688.5 L460.1,692.1 L460.9,695.7 L461.7,699.2 L462.5,702.8 L463.3,706.3 L464.1,709.7 L464.8,712.9 L465.6,716.1 L466.3,719.0 L466.9,721.8 L467.5,724.3 L468.1,726.6 L468.6,728.5 L468.9,729.8 L469.0,730.2 L469.3,731.5 L469.6,732.6 L469.9,733.6 L470.1,734.4 L470.2,734.8 L470.3,735.4 L470.6,736.4 L470.8,737.4 L471.1,738.5 L471.4,739.6 L471.7,740.8 L471.9,741.9 L472.0,742.0 L472.3,743.3 L472.6,744.5 L472.9,745.8 L473.2,747.1 L473.5,748.3 L473.8,749.6 L474.0,750.1 L474.2,750.8 L474.5,752.1 L474.8,753.3 L475.2,754.5 L475.5,755.7 L475.8,756.8 L476.0,757.4 L476.2,758.0 L476.5,759.1 L476.8,760.3 L477.2,761.4 L477.5,762.5 L477.9,763.6 L478.1,764.2 L478.2,764.7 L478.6,765.7 L478.9,766.8 L479.3,767.8 L479.6,768.9 L480.0,769.9 L480.1,770.2 L480.3,770.9 L480.7,771.9 L481.0,772.9 L481.4,773.9 L481.7,774.9 L482.0,775.6 L482.1,775.9 L482.5,776.8 L482.8,777.8 L483.2,778.7 L483.5,779.7 L483.9,780.6 L483.9,780.6 L484.3,781.5 L484.7,782.5 L485.1,783.4 L485.5,784.3 L485.9,785.2 L485.9,785.2 L486.3,786.0 L486.7,786.9 L487.1,787.8 L487.6,788.6 L487.9,789.3 L488.0,789.5 L488.5,790.3 L488.9,791.1 L489.4,791.9 L489.9,792.7 L490.1,793.0 L490.5,793.5 L491.0,794.3 L491.5,795.0 L492.1,795.8 L492.7,796.5 L493.1,797.0 L493.3,797.2 L493.9,797.9 L494.5,798.6 L495.2,799.3 L495.9,800.0 L496.2,800.3 L496.6,800.6 L497.3,801.3 L498.0,801.9 L498.8,802.5 L499.6,803.1 L499.9,803.3 L500.4,803.7 L501.2,804.2 L502.1,804.8 L503.0,805.3 L503.9,805.8 L504.8,806.3 L504.9,806.3 L505.9,806.8 L506.9,807.3 L507.9,807.7 L508.9,808.2 L509.9,808.6 L510.1,808.7 L511.0,809.0 L512.0,809.5 L513.0,809.9 L514.0,810.4 L514.9,810.8 L515.8,811.3 L515.9,811.4 L516.7,811.8 L517.6,812.2 L518.5,812.6 L519.4,813.0 L520.2,813.1 L520.5,813.2 L521.7,813.2 L523.0,813.2 L524.4,813.1 L525.8,812.9 L527.2,812.8 L528.6,812.7 L529.8,812.7 L529.9,812.7 L531.0,812.8 L532.2,813.0 L533.2,813.2 L534.2,813.5 L535.1,813.8 L535.2,813.9 L536.0,814.2 L537.0,814.5 L537.9,814.9 L538.8,815.2 L539.7,815.5 L540.0,815.6 L540.6,815.9 L541.5,816.2 L542.5,816.5 L543.5,816.8 L544.5,817.1 L545.0,817.2 L545.5,817.4 L546.6,817.6 L547.8,817.8 L548.9,818.1 L550.1,818.3 L551.3,818.5 L552.0,818.5 L552.6,818.6 L553.8,818.8 L555.0,818.9 L556.3,819.0 L557.5,819.1 L558.8,819.2 L560.0,819.3 L560.0,819.3 L561.2,819.3 L562.4,819.4 L563.6,819.4 L564.7,819.4 L565.9,819.4 L567.0,819.4 L567.1,819.4 L568.3,819.4 L569.5,819.3 L570.7,819.3 L571.9,819.2 L573.2,819.1 L574.4,819.1 L575.0,819.0 L575.8,818.9 L577.1,818.8 L578.5,818.7 L579.9,818.6 L581.3,818.5 L582.7,818.4 L584.2,818.4 L585.0,818.4 L585.6,818.4 L587.0,818.4 L588.4,818.4 L589.8,818.5 L591.1,818.6 L592.4,818.7 L593.7,818.8 L594.1,818.9 L594.8,819.0 L596.0,819.1 L597.0,819.3 L598.0,819.5 L599.0,819.6 L599.8,819.8 L599.9,819.8 L600.8,819.9 L601.7,819.9 L602.7,820.0 L603.9,820.1 L605.2,820.1 L606.0,820.1 L608.2,820.1 L612.5,820.1 L616.8,820.1 L621.0,820.1 L625.3,820.1 L629.6,820.1 L633.9,820.1 L638.2,820.1 L642.5,820.1 L646.7,820.1 L651.0,820.1 L655.3,820.1 L659.6,820.1 L663.9,820.1 L668.2,820.1 L672.4,820.1 L676.7,820.1 L681.0,820.1 L685.3,820.1 L689.6,820.1 L693.9,820.1 L698.1,820.1 L700.0,820.1 L703.6,820.1 L710.0,820.1 L716.3,820.1 L722.7,820.1 L729.0,820.1 L735.4,820.1 L741.7,820.1 L748.1,820.1 L754.5,820.1 L760.8,820.1 L767.2,820.1 L773.5,820.1 L779.9,820.1 L786.2,820.1 L792.6,820.1 L798.9,820.1 L805.3,820.1 L811.7,820.1 L818.0,820.1 L824.4,820.1 L830.7,820.1 L837.1,820.1 L843.4,820.1 L849.8,820.1 L856.2,820.1 L862.5,820.1 L868.9,820.1 L875.2,820.1 L881.6,820.1 L887.9,820.1 L894.3,820.1 L900.6,820.1 L907.0,820.1" stroke="#0000ff"/>
<path d="M152.6,820.1 L157.6,820.1 L162.5,820.1 L167.5,820.1 L172.4,820.1 L177.4,820.1 L182.3,820.1 L187.3,820.1 L192.2,820.1 L197.2,820.1 L202.1,820.1 L207.1,820.1 L212.0,820.1 L217.0,820.1 L221.9,820.1 L226.9,820.1 L231.8,820.1 L236.8,820.1 L241.8,820.1 L246.7,820.1 L250.0,820.1 L251.4,820.1 L255.5,820.1 L259.7,820.1 L263.8,820.1 L267.9,820.1 L272.1,820.1 L276.2,820.1 L280.4,820.1 L284.5,820.1 L288.6,820.1 L292.8,820.1 L296.9,820.1 L301.0,820.1 L305.2,820.1 L309.3,820.1 L313.5,820.1 L317.6,820.1 L318.0,820.1 L319.7,819.9 L321.2,819.5 L322.5,819.2 L323.7,818.8 L324.7,818.4 L325.2,818.2 L325.7,818.0 L326.7,817.6 L327.7,817.1 L328.7,816.7 L329.8,816.2 L329.9,816.1 L330.8,815.7 L331.9,815.1 L333.0,814.5 L334.0,813.8 L335.0,813.2 L335.1,813.1 L336.1,812.4 L337.2,811.5 L338.2,810.6 L339.1,809.6 L340.0,808.6 L340.2,808.4 L340.9,807.4 L341.7,806.2 L342.5,805.0 L343.2,803.7 L344.0,802.4 L344.7,801.0 L344.7,801.0 L345.3,799.8 L346.0,798.5 L346.7,797.3 L347.3,796.2 L348.0,795.2 L348.1,795.1 L348.7,794.4 L349.4,793.6 L350.1,792.9 L350.8,792.3 L351.2,792.1 L351.5,791.8 L352.3,791.4 L353.1,791.0 L353.9,790.6 L354.0,790.5 L354.7,790.2 L355.5,789.8 L356.4,789.4 L356.9,789.1 L357.2,789.0 L358.0,788.5 L358.8,787.9 L359.6,787.3 L360.0,786.9 L360.3,786.6 L361.0,785.8 L361.7,784.9 L362.3,783.9 L362.9,782.8 L363.1,782.4 L363.5,781.7 L364.0,780.4 L364.5,779.1 L365.0,777.8 L365.5,776.4 L366.0,774.9 L366.1,774.6 L366.4,773.4 L366.9,771.8 L367.3,770.2 L367.8,768.5 L368.2,766.8 L368.6,765.1 L368.9,764.0 L369.1,763.4 L369.5,761.6 L370.0,759.9 L370.4,758.1 L370.9,756.3 L371.3,754.6 L371.8,752.8 L372.0,751.7 L372.2,751.1 L372.6,749.3 L373.1,747.6 L373.5,746.0 L373.9,744.3 L374.3,742.7 L374.7,741.2 L375.0,739.8 L375.0,739.6 L375.4,738.2 L375.7,736.7 L376.0,735.2 L376.4,733.6 L376.7,731.8 L377.0,729.9 L377.0,729.9 L377.4,727.7 L377.7,725.2 L378.1,722.6 L378.4,719.8 L378.8,716.8 L379.1,713.7 L379.5,710.4 L379.9,707.0 L380.2,703.5 L380.6,699.9 L381.0,696.2 L381.3,692.4 L381.5,690.2 L381.6,688.7 L382.0,684.9 L382.3,681.1 L382.6,677.4 L382.9,673.8 L383.2,670.2 L383.5,666.8 L383.7,663.5 L384.0,660.5 L384.3,657.6 L384.5,655.0 L384.7,652.7 L384.9,650.7 L385.0,650.3 L385.2,649.0 L385.4,647.6 L385.6,646.2 L385.8,644.8 L386.1,643.3 L386.3,641.4 L386.5,640.1 L386.7,639.0 L387.0,636.1 L387.4,632.8 L387.8,629.1 L388.3,624.9 L388.8,620.5 L389.3,615.8 L389.8,610.8 L390.3,605.7 L390.9,600.4 L391.4,595.1 L391.9,589.7 L392.5,584.3 L393.0,579.0 L393.5,573.8 L393.9,568.8 L394.3,564.0 L394.7,559.4 L395.1,555.2 L395.1,555.1 L395.4,551.2 L395.7,547.6 L396.0,544.2 L396.2,541.1 L396.4,538.2 L396.6,535.4 L396.8,532.7 L397.0,530.1 L397.2,527.5 L397.4,524.9 L397.7,522.3 L397.9,520.2 L398.0,519.6 L398.3,516.7 L398.6,513.8 L399.0,510.8 L399.4,507.7 L399.8,504.5 L400.2,501.3 L400.6,498.0 L401.1,494.7 L401.6,491.4 L402.0,488.1 L402.5,484.9 L403.0,481.6 L403.2,480.2 L403.5,478.4 L403.9,475.3 L404.4,472.2 L404.9,469.2 L405.3,466.2 L405.8,463.3 L406.2,460.5 L406.6,457.8 L407.0,455.1 L407.4,452.6 L407.7,450.1 L408.0,448.3 L408.1,447.8 L408.4,445.5 L408.6,443.4 L408.9,441.3 L409.2,439.2 L409.5,437.3 L409.8,435.3 L410.1,433.4 L410.4,431.9 L410.5,431.5 L410.9,429.6 L411.4,427.9 L411.9,426.4 L412.4,425.3 L413.0,424.7 L413.3,424.6 L413.6,424.7 L414.1,425.2 L414.7,426.3 L415.3,427.7 L415.8,429.4 L416.2,431.2 L416.4,432.1 L416.6,433.1 L417.0,435.0 L417.3,436.8 L417.5,438.7 L417.8,440.6 L418.0,442.6 L418.2,444.7 L418.4,446.9 L418.5,448.0 L418.6,449.2 L418.9,451.7 L419.2,454.3 L419.5,457.0 L419.8,459.7 L420.1,462.6 L420.5,465.6 L420.8,468.6 L421.2,471.7 L421.6,474.9 L422.0,478.1 L422.3,480.5 L422.4,481.3 L422.8,484.5 L423.2,487.8 L423.7,491.1 L424.1,494.3 L424.5,497.5 L424.9,500.7 L425.3,503.9 L425.7,507.0 L426.1,510.1 L426.4,513.1 L426.8,516.0 L427.1,518.8 L427.2,519.9 L427.4,521.5 L427.7,524.2 L428.0,526.8 L428.3,529.4 L428.6,532.0 L428.9,534.7 L429.2,537.5 L429.5,540.4 L429.8,543.5 L430.1,546.9 L430.5,550.5 L430.9,554.3 L431.0,555.3 L431.3,558.6 L431.8,563.1 L432.2,567.8 L432.8,572.8 L433.3,577.9 L433.8,583.2 L434.4,588.5 L434.9,593.9 L435.5,599.2 L436.0,604.4 L436.6,609.6 L437.1,614.5 L437.6,619.3 L438.1,623.8 L438.6,628.0 L439.0,631.9 L439.4,635.3 L439.8,638.4 L440.0,640.1 L440.1,640.9 L440.4,643.0 L440.6,644.7 L440.9,646.1 L441.1,647.5 L441.3,648.8 L441.5,650.3 L441.5,650.3 L441.7,652.0 L442.0,654.0 L442.2,656.1 L442.5,658.5 L442.8,661.1 L443.1,663.9 L443.4,666.9 L443.7,670.0 L444.1,673.3 L444.4,676.8 L444.8,680.2 L444.8,680.4 L445.2,684.1 L445.6,688.0 L446.1,691.9 L446.5,695.8 L446.9,699.7 L447.4,703.7 L447.8,707.5 L448.2,711.2 L448.7,714.9 L449.1,718.3 L449.4,721.6 L449.8,724.6 L450.1,727.4 L450.5,729.9 L450.5,730.0 L450.7,732.0 L451.0,733.9 L451.2,735.6 L451.5,737.1 L451.7,738.6 L451.9,740.0 L452.0,740.6 L452.2,741.4 L452.4,742.9 L452.7,744.4 L453.0,745.9 L453.3,747.5 L453.6,749.1 L453.9,750.7 L453.9,750.9 L454.2,752.4 L454.6,754.0 L454.9,755.6 L455.2,757.2 L455.6,758.8 L455.9,760.4 L456.1,761.1 L456.2,762.0 L456.6,763.5 L456.9,765.0 L457.2,766.4 L457.6,767.9 L457.9,769.3 L458.0,769.5 L458.3,770.7 L458.6,772.1 L458.9,773.4 L459.3,774.7 L459.6,776.1 L460.0,777.2 L460.0,777.4 L460.4,778.7 L460.7,780.0 L461.1,781.2 L461.5,782.5 L461.9,783.7 L462.0,784.1 L462.3,785.0 L462.7,786.2 L463.1,787.4 L463.5,788.6 L463.9,789.8 L464.0,790.1 L464.3,790.9 L464.8,792.1 L465.2,793.2 L465.6,794.3 L466.0,795.4 L466.1,795.6 L466.4,796.5 L466.9,797.6 L467.3,798.6 L467.7,799.7 L468.0,800.2 L468.2,800.7 L468.7,801.7 L469.1,802.6 L469.6,803.5 L469.9,804.0 L470.1,804.4 L470.7,805.3 L471.3,806.1 L471.8,806.9 L472.0,807.1 L472.5,807.6 L473.1,808.3 L473.8,809.0 L474.5,809.6 L475.0,809.9 L475.3,810.2 L476.1,810.7 L476.9,811.2 L477.8,811.6 L478.1,811.8 L478.7,812.0 L479.6,812.4 L480.6,812.7 L481.6,813.0 L482.0,813.1 L482.5,813.3 L483.5,813.5 L484.5,813.8 L485.5,814.0 L485.9,814.1 L486.5,814.2 L487.5,814.4 L488.5,814.5 L489.5,814.7 L490.0,814.8 L490.5,814.9 L491.5,815.2 L492.5,815.4 L493.5,815.8 L494.1,816.0 L494.5,816.1 L495.5,816.5 L496.4,817.0 L497.4,817.4 L498.0,817.7 L498.3,817.9 L499.2,818.3 L500.1,818.6 L501.1,819.0 L501.9,819.2 L502.1,819.3 L503.1,819.5 L504.3,819.7 L505.5,819.9 L506.9,820.0 L508.0,820.1 L509.9,820.1 L516.9,820.1 L523.9,820.1 L530.8,820.1 L537.8,820.1 L544.7,820.1 L551.7,820.1 L558.6,820.1 L565.6,820.1 L572.5,820.1 L579.5,820.1 L586.4,820.1 L593.4,820.1 L600.3,820.1 L607.3,820.1 L614.3,820.1 L621.2,820.1 L628.2,820.1 L635.1,820.1 L642.1,820.1 L649.0,820.1 L656.0,820.1 L662.9,820.1 L669.9,820.1 L676.8,820.1 L683.8,820.1 L690.7,820.1 L697.7,820.1 L700.0,820.1 L704.8,820.1 L712.1,820.1 L719.3,820.1 L726.5,820.1 L733.7,820.1 L740.9,820.1 L748.2,820.1 L755.4,820.1 L762.6,820.1 L769.8,820.1 L777.0,820.1 L784.3,820.1 L791.5,820.1 L798.7,820.1 L805.9,820.1 L813.1,820.1 L820.4,820.1 L827.6,820.1 L834.8,820.1 L842.0,820.1 L849.2,820.1 L856.5,820.1 L863.7,820.1 L870.9,820.1 L878.1,820.1 L885.3,820.1 L892.6,820.1 L899.8,820.1 L907.0,820.1" stroke="#00ffff"/>
<path d="M152.6,820.1 L155.9,820.1 L159.3,820.1 L162.6,820.1 L165.9,820.1 L169.3,820.1 L172.6,820.1 L176.0,820.1 L179.3,820.1 L182.6,820.1 L186.0,820.1 L189.3,820.1 L192.6,820.1 L196.0,820.1 L199.3,820.1 L202.7,820.1 L206.0,820.1 L209.3,820.1 L212.7,820.1 L216.0,820.1 L219.3,820.1 L220.0,820.1 L222.1,820.1 L224.6,820.1 L227.2,820.1 L229.8,820.1 L232.3,820.1 L234.9,820.1 L237.5,820.1 L240.1,820.1 L242.6,820.1 L245.2,820.1 L247.8,820.1 L250.3,820.1 L252.9,820.1 L255.5,820.1 L258.0,820.1 L260.0,820.1 L260.4,820.1 L262.2,820.0 L263.9,820.0 L265.4,819.9 L266.8,819.8 L268.1,819.7 L269.2,819.6 L270.3,819.4 L270.8,819.4 L271.1,819.3 L271.9,819.1 L272.5,819.0 L273.2,818.8 L273.8,818.5 L274.5,818.3 L274.6,818.3 L275.3,818.1 L276.2,817.8 L277.2,817.5 L278.2,817.2 L279.2,816.8 L280.0,816.6 L280.2,816.5 L281.1,816.1 L282.1,815.8 L283.0,815.4 L283.8,815.0 L284.7,814.5 L285.1,814.3 L285.5,814.1 L286.4,813.7 L287.2,813.2 L288.0,812.8 L288.8,812.3 L289.6,811.8 L289.9,811.6 L290.4,811.3 L291.2,810.8 L292.0,810.2 L292.8,809.7 L293.6,809.1 L294.4,808.6 L294.8,808.3 L295.3,808.0 L296.1,807.4 L297.0,806.8 L297.9,806.2 L298.9,805.6 L299.8,805.0 L300.4,804.7 L300.8,804.4 L301.9,803.7 L302.9,803.1 L304.0,802.4 L305.1,801.8 L306.3,801.1 L307.4,800.4 L308.6,799.7 L309.6,799.1 L309.8,798.9 L311.0,798.2 L312.2,797.5 L313.4,796.7 L314.7,795.9 L315.9,795.2 L317.1,794.4 L318.4,793.5 L319.6,792.7 L320.1,792.3 L320.8,791.9 L322.0,791.0 L323.2,790.1 L324.4,789.3 L325.6,788.4 L326.7,787.6 L327.9,786.8 L329.1,786.0 L330.2,785.2 L330.3,785.2 L331.4,784.5 L332.5,783.9 L333.7,783.2 L334.8,782.6 L335.9,782.0 L337.0,781.5 L338.1,780.9 L339.2,780.3 L339.5,780.2 L340.2,779.7 L341.2,779.1 L342.2,778.5 L343.1,777.9 L344.0,777.2 L344.9,776.5 L345.3,776.1 L345.7,775.8 L346.4,774.9 L347.2,774.1 L347.8,773.2 L348.5,772.2 L349.1,771.2 L349.7,770.1 L350.1,769.3 L350.3,769.0 L350.9,767.8 L351.4,766.6 L351.9,765.3 L352.5,764.0 L353.0,762.6 L353.5,761.1 L354.0,759.6 L354.5,758.0 L354.8,757.1 L355.1,756.4 L355.6,754.7 L356.1,753.0 L356.7,751.2 L357.2,749.5 L357.7,747.8 L358.3,746.1 L358.7,744.5 L359.2,743.0 L359.7,741.6 L360.1,740.3 L360.1,740.2 L360.5,739.0 L360.8,737.9 L361.2,736.8 L361.5,735.7 L361.8,734.5 L362.2,733.2 L362.6,731.7 L363.0,730.1 L363.0,729.9 L363.5,727.9 L364.1,725.7 L364.6,723.2 L365.2,720.6 L365.8,717.9 L366.5,715.1 L367.1,712.2 L367.8,709.3 L368.4,706.4 L369.0,703.6 L369.6,700.9 L370.2,698.2 L370.8,695.8 L371.3,693.5 L371.7,691.5 L372.0,690.3 L372.1,689.7 L372.5,688.2 L372.8,686.9 L373.1,685.7 L373.3,684.6 L373.6,683.4 L373.9,682.2 L374.2,680.9 L374.4,680.1 L374.6,679.4 L375.0,677.6 L375.5,675.6 L376.0,673.5 L376.5,671.3 L377.1,668.9 L377.6,666.5 L378.2,664.1 L378.8,661.7 L379.3,659.3 L379.9,656.9 L380.4,654.7 L380.9,652.6 L381.3,650.7 L381.4,650.3 L381.7,648.9 L382.0,647.3 L382.3,645.9 L382.6,644.6 L382.9,643.4 L383.1,642.3 L383.4,641.1 L383.6,640.0 L383.6,639.9 L383.9,638.9 L384.2,637.7 L384.5,636.5 L384.8,635.2 L385.2,634.0 L385.5,632.7 L385.8,631.4 L386.2,630.1 L386.3,629.5 L386.5,628.7 L386.8,627.4 L387.2,626.1 L387.5,624.8 L387.8,623.4 L388.2,622.1 L388.5,620.8 L388.8,619.7 L388.8,619.5 L389.1,618.2 L389.4,616.9 L389.8,615.6 L390.1,614.4 L390.4,613.2 L390.7,612.0 L391.0,610.8 L391.3,609.8 L391.3,609.7 L391.6,608.6 L391.9,607.5 L392.2,606.4 L392.5,605.4 L392.8,604.4 L393.1,603.4 L393.4,602.6 L393.4,602.4 L393.7,601.4 L394.0,600.5 L394.3,599.5 L394.6,598.5 L394.9,597.5 L395.1,597.0 L395.2,596.5 L395.5,595.5 L395.9,594.5 L396.2,593.5 L396.5,592.4 L396.8,591.4 L397.1,590.5 L397.1,590.4 L397.5,589.4 L397.8,588.4 L398.1,587.4 L398.5,586.5 L398.9,585.5 L399.3,584.6 L399.4,584.5 L399.7,583.8 L400.1,582.9 L400.5,582.1 L401.0,581.4 L401.5,580.7 L401.7,580.3 L402.0,580.0 L402.5,579.4 L403.0,578.9 L403.6,578.4 L404.2,578.0 L404.4,577.9 L404.8,577.7 L405.4,577.4 L406.0,577.2 L406.7,577.1 L407.0,577.1 L407.3,577.1 L408.0,577.1 L408.6,577.3 L409.2,577.5 L409.5,577.7 L409.8,577.8 L410.3,578.3 L410.8,578.8 L411.3,579.4 L411.8,580.0 L411.9,580.1 L412.2,580.7 L412.7,581.5 L413.1,582.3 L413.5,583.1 L413.9,584.0 L414.1,584.2 L414.4,584.9 L414.8,585.8 L415.2,586.7 L415.7,587.6 L416.1,588.6 L416.6,589.6 L416.9,590.2 L417.0,590.5 L417.5,591.6 L418.0,592.6 L418.4,593.7 L418.9,594.8 L419.4,595.9 L419.9,597.0 L420.1,597.5 L420.4,598.2 L420.9,599.4 L421.4,600.7 L421.9,601.9 L422.4,603.2 L422.9,604.6 L423.5,606.0 L424.0,607.4 L424.5,608.8 L424.9,609.8 L425.1,610.3 L425.6,611.9 L426.2,613.4 L426.7,615.0 L427.3,616.7 L427.8,618.3 L428.4,619.9 L428.9,621.6 L429.4,623.2 L430.0,624.9 L430.2,625.5 L430.5,626.5 L431.0,628.1 L431.5,629.7 L432.0,631.3 L432.5,632.8 L433.0,634.3 L433.5,635.7 L433.9,637.1 L434.3,638.5 L434.8,639.7 L434.8,640.0 L435.1,640.9 L435.5,642.1 L435.9,643.2 L436.3,644.4 L436.7,645.7 L437.1,647.0 L437.5,648.5 L438.0,650.1 L438.1,650.3 L438.6,651.9 L439.1,653.9 L439.8,656.1 L440.4,658.4 L441.1,660.7 L441.7,663.1 L442.4,665.5 L443.1,667.9 L443.7,670.3 L444.3,672.6 L444.9,674.7 L445.5,676.8 L446.0,678.6 L446.4,680.1 L446.4,680.3 L446.8,681.7 L447.1,683.0 L447.4,684.2 L447.7,685.3 L448.0,686.5 L448.3,687.7 L448.7,689.1 L449.1,690.3 L449.2,690.7 L449.7,692.5 L450.3,694.6 L451.0,696.8 L451.7,699.2 L452.5,701.8 L453.3,704.4 L454.1,707.1 L454.9,709.9 L455.8,712.7 L456.6,715.5 L457.5,718.2 L458.3,720.9 L459.0,723.6 L459.8,726.1 L460.5,728.4 L460.9,729.9 L461.1,730.6 L461.6,732.7 L462.1,734.5 L462.5,736.2 L462.9,737.8 L463.3,739.2 L463.6,740.5 L463.8,741.8 L464.1,742.9 L464.2,743.7 L464.3,744.0 L464.5,745.1 L464.7,746.1 L464.9,747.1 L465.2,748.1 L465.4,749.1 L465.6,750.1 L465.8,750.9 L465.9,751.2 L466.2,752.3 L466.5,753.4 L466.8,754.6 L467.1,755.8 L467.4,757.0 L467.8,758.2 L468.0,759.1 L468.1,759.3 L468.4,760.5 L468.7,761.6 L469.0,762.7 L469.3,763.8 L469.6,764.9 L469.9,765.9 L470.1,766.4 L470.2,767.0 L470.5,768.0 L470.8,769.1 L471.1,770.1 L471.4,771.1 L471.7,772.2 L471.9,773.2 L472.0,773.3 L472.2,774.2 L472.5,775.3 L472.8,776.3 L473.1,777.3 L473.4,778.4 L473.7,779.4 L473.9,780.2 L474.0,780.5 L474.3,781.5 L474.7,782.6 L475.0,783.6 L475.3,784.6 L475.6,785.7 L475.9,786.7 L476.0,787.0 L476.2,787.7 L476.6,788.7 L476.9,789.7 L477.2,790.7 L477.5,791.7 L477.9,792.7 L478.0,793.2 L478.2,793.7 L478.5,794.6 L478.9,795.6 L479.2,796.5 L479.6,797.4 L479.9,798.3 L480.1,798.7 L480.2,799.2 L480.6,800.1 L480.9,800.9 L481.3,801.8 L481.6,802.6 L482.0,803.3 L482.0,803.4 L482.3,804.1 L482.7,804.9 L483.1,805.7 L483.5,806.4 L483.9,807.1 L483.9,807.2 L484.3,807.8 L484.7,808.4 L485.1,809.1 L485.5,809.7 L485.9,810.2 L486.0,810.3 L486.5,810.9 L486.9,811.4 L487.4,811.9 L487.9,812.5 L488.0,812.6 L488.4,812.9 L489.0,813.4 L489.5,813.8 L490.1,814.2 L490.2,814.3 L490.7,814.6 L491.3,815.0 L491.9,815.3 L492.6,815.6 L493.0,815.7 L493.2,815.8 L493.9,816.0 L494.6,816.1 L495.3,816.2 L496.0,816.2 L496.1,816.2 L496.8,816.2 L497.6,816.1 L498.4,815.9 L499.2,815.7 L499.9,815.6 L500.0,815.5 L500.9,815.3 L501.7,815.1 L502.5,815.0 L503.3,814.8 L504.0,814.7 L504.2,814.7 L505.0,814.6 L505.8,814.6 L506.6,814.6 L507.4,814.7 L508.0,814.8 L508.2,814.8 L509.0,815.0 L509.8,815.1 L510.6,815.3 L511.4,815.5 L512.0,815.7 L512.2,815.8 L512.9,816.0 L513.7,816.3 L514.5,816.5 L515.3,816.8 L515.9,817.0 L516.0,817.1 L516.8,817.4 L517.7,817.6 L518.5,817.9 L519.4,818.1 L520.1,818.3 L520.3,818.4 L521.2,818.6 L522.2,818.8 L523.1,819.0 L524.1,819.2 L525.0,819.3 L525.9,819.5 L525.9,819.5 L526.8,819.6 L527.7,819.7 L528.7,819.8 L529.8,819.9 L531.0,820.0 L532.5,820.0 L534.0,820.1 L534.5,820.1 L539.7,820.1 L545.0,820.1 L550.2,820.1 L555.5,820.1 L560.7,820.1 L565.9,820.1 L571.2,820.1 L576.4,820.1 L581.6,820.1 L586.9,820.1 L592.1,820.1 L597.3,820.1 L602.6,820.1 L607.8,820.1 L613.1,820.1 L618.3,820.1 L623.5,820.1 L628.8,820.1 L634.0,820.1 L639.2,820.1 L644.5,820.1 L649.7,820.1 L655.0,820.1 L660.2,820.1 L665.4,820.1 L670.7,820.1 L675.9,820.1 L681.1,820.1 L686.4,820.1 L691.6,820.1 L696.8,820.1 L700.0,820.1 L702.3,820.1 L708.2,820.1 L714.0,820.1 L719.9,820.1 L725.7,820.1 L731.6,820.1 L737.4,820.1 L743.3,820.1 L749.1,820.1 L755.0,820.1 L760.8,820.1 L766.7,820.1 L772.5,820.1 L778.3,820.1 L784.2,820.1 L790.0,820.1 L795.9,820.1 L801.7,820.1 L807.6,820.1 L813.4,820.1 L819.3,820.1 L825.1,820.1 L831.0,820.1 L836.8,820.1 L842.7,820.1 L848.5,820.1 L854.4,820.1 L860.2,820.1 L866.1,820.1 L871.9,820.1 L877.8,820.1 L883.6,820.1 L889.5,820.1 L895.3,820.1 L901.2,820.1 L907.0,820.1" stroke="#ff00ff"/>
<path d="M152.4,802.1 L153.6,801.3 L154.8,800.5 L156.0,799.7 L157.2,799.0 L158.4,798.3 L159.7,797.7 L160.4,797.3 L160.9,797.0 L162.2,796.4 L163.4,795.8 L164.7,795.3 L166.0,794.7 L167.3,794.2 L168.5,793.7 L169.8,793.3 L170.0,793.2 L171.1,792.8 L172.4,792.4 L173.7,792.0 L175.1,791.6 L176.4,791.2 L177.7,790.8 L179.0,790.5 L179.9,790.2 L180.4,790.1 L181.7,789.8 L183.0,789.5 L184.4,789.2 L185.7,788.9 L187.1,788.6 L188.4,788.3 L189.8,788.1 L189.9,788.1 L191.1,787.8 L192.5,787.6 L193.9,787.3 L195.2,787.0 L196.6,786.8 L197.9,786.5 L199.3,786.3 L199.9,786.2 L200.7,786.0 L202.0,785.8 L203.4,785.5 L204.8,785.3 L206.2,785.0 L207.5,784.7 L208.9,784.5 L210.0,784.3 L210.3,784.2 L211.6,783.9 L213.0,783.6 L214.4,783.3 L215.7,783.0 L217.1,782.6 L218.4,782.3 L219.8,781.9 L220.0,781.9 L221.2,781.5 L222.5,781.1 L223.9,780.7 L225.2,780.3 L226.5,779.9 L227.9,779.4 L229.2,779.0 L230.0,778.7 L230.6,778.5 L231.9,778.1 L233.3,777.6 L234.6,777.1 L235.9,776.6 L237.3,776.1 L238.6,775.6 L239.9,775.1 L240.1,775.1 L241.3,774.6 L242.6,774.1 L243.9,773.6 L245.2,773.1 L246.6,772.6 L247.9,772.2 L249.2,771.7 L250.1,771.4 L250.6,771.2 L251.9,770.7 L253.2,770.2 L254.6,769.8 L255.9,769.3 L257.2,768.9 L258.5,768.5 L259.9,768.0 L260.1,768.0 L261.2,767.6 L262.6,767.2 L263.9,766.9 L265.2,766.5 L266.6,766.2 L267.9,765.8 L269.3,765.5 L270.0,765.4 L270.6,765.2 L271.9,765.0 L273.3,764.7 L274.6,764.5 L276.0,764.3 L277.4,764.1 L278.7,763.9 L279.9,763.8 L280.1,763.8 L281.4,763.7 L282.8,763.6 L284.2,763.6 L285.5,763.6 L286.9,763.6 L288.3,763.6 L289.7,763.6 L289.9,763.6 L291.0,763.6 L292.4,763.7 L293.8,763.8 L295.2,763.9 L296.6,764.0 L297.9,764.1 L299.3,764.2 L300.0,764.3 L300.7,764.4 L302.1,764.5 L303.5,764.6 L304.9,764.8 L306.2,764.9 L307.6,765.1 L309.0,765.2 L310.0,765.4 L310.4,765.4 L311.7,765.5 L313.1,765.7 L314.5,765.8 L315.8,766.0 L317.2,766.1 L318.6,766.2 L319.9,766.3 L320.0,766.3 L321.3,766.4 L322.6,766.5 L324.0,766.6 L325.3,766.6 L326.7,766.7 L328.0,766.7 L329.4,766.7 L329.8,766.7 L330.7,766.6 L332.0,766.6 L333.3,766.5 L334.7,766.4 L336.0,766.3 L337.3,766.2 L338.6,766.0 L339.4,765.8 L339.9,765.8 L341.2,765.5 L342.5,765.3 L343.7,764.9 L345.0,764.6 L346.1,764.3 L346.3,764.2 L347.5,763.8 L348.8,763.3 L350.0,762.9 L351.3,762.3 L352.5,761.8 L353.7,761.2 L354.9,760.5 L355.3,760.3 L356.1,759.9 L357.3,759.2 L358.5,758.5 L359.7,757.7 L360.9,756.9 L362.1,756.1 L363.3,755.3 L364.5,754.4 L364.7,754.3 L365.6,753.6 L366.8,752.7 L367.9,751.7 L369.1,750.8 L370.2,749.8 L371.4,748.8 L372.5,747.8 L373.6,746.8 L374.4,746.1 L374.8,745.7 L375.9,744.6 L377.0,743.6 L378.1,742.5 L379.2,741.4 L380.3,740.2 L381.4,739.1 L382.5,738.0 L383.6,736.8 L384.2,736.2 L384.7,735.6 L385.8,734.5 L386.9,733.3 L388.0,732.1 L389.0,730.9 L390.1,729.7 L390.8,728.9 L391.2,728.5 L392.2,727.3 L393.3,726.1 L394.4,724.8 L395.4,723.6 L396.5,722.4 L397.5,721.2 L398.6,720.0 L399.6,718.8 L400.6,717.6 L400.6,717.6 L401.7,716.4 L402.7,715.2 L403.8,714.0 L404.8,712.9 L405.8,711.7 L406.9,710.6 L407.9,709.5 L409.0,708.5 L409.9,707.6 L410.0,707.5 L411.0,706.5 L412.1,705.6 L413.1,704.8 L414.2,704.0 L415.3,703.2 L416.3,702.6 L416.8,702.3 L417.4,702.0 L418.5,701.5 L419.6,701.0 L420.7,700.7 L421.8,700.4 L422.9,700.2 L423.3,700.2 L424.0,700.2 L425.1,700.2 L426.3,700.3 L427.4,700.6 L428.6,701.0 L429.8,701.5 L430.2,701.6 L431.0,702.1 L432.2,702.8 L433.4,703.6 L434.6,704.6 L435.8,705.6 L437.0,706.8 L438.3,707.9 L439.4,709.2 L440.1,709.9 L440.6,710.5 L441.8,711.9 L442.9,713.3 L444.0,714.7 L445.1,716.1 L446.1,717.6 L447.1,719.0 L448.1,720.4 L449.0,721.8 L449.8,723.1 L449.9,723.2 L450.7,724.5 L451.5,725.8 L452.2,727.1 L452.9,728.4 L453.6,729.6 L454.3,730.9 L454.9,732.1 L454.9,732.1 L455.6,733.4 L456.2,734.6 L456.9,735.9 L457.5,737.1 L458.2,738.4 L458.8,739.6 L459.5,740.9 L460.1,742.1 L460.1,742.1 L460.8,743.4 L461.4,744.7 L462.1,745.9 L462.7,747.2 L463.4,748.5 L464.0,749.7 L464.7,751.0 L465.1,751.9 L465.3,752.3 L466.0,753.5 L466.6,754.8 L467.3,756.0 L467.9,757.3 L468.6,758.5 L469.2,759.8 L469.9,761.0 L470.0,761.1 L470.6,762.2 L471.2,763.4 L471.9,764.7 L472.6,765.9 L473.3,767.1 L473.9,768.3 L474.6,769.5 L475.0,770.0 L475.3,770.6 L476.0,771.8 L476.7,773.0 L477.4,774.1 L478.1,775.3 L478.8,776.4 L479.5,777.5 L479.9,778.1 L480.3,778.6 L481.0,779.7 L481.7,780.8 L482.5,781.9 L483.2,782.9 L484.0,784.0 L484.7,785.0 L485.0,785.3 L485.5,786.0 L486.2,787.0 L487.0,788.0 L487.8,789.0 L488.6,789.9 L489.4,790.9 L490.0,791.6 L490.2,791.8 L491.0,792.7 L491.8,793.6 L492.6,794.5 L493.4,795.4 L494.2,796.3 L495.0,797.1 L495.2,797.3 L495.8,798.0 L496.6,798.8 L497.4,799.6 L498.2,800.5 L499.0,801.3 L499.8,802.1 L500.1,802.5 L500.5,802.9 L501.3,803.6 L502.1,804.4 L502.9,805.2 L503.7,805.9 L504.4,806.7 L504.8,807.0 L505.2,807.4 L506.1,808.1 L506.9,808.8 L507.7,809.4 L508.6,810.1 L509.4,810.7 L509.6,810.9 L510.3,811.3 L511.2,811.9 L512.2,812.5 L513.1,813.0 L514.2,813.5 L514.9,813.9 L515.2,814.0 L516.3,814.4 L517.4,814.9 L518.5,815.3 L519.6,815.6 L520.8,816.0 L520.9,816.0 L522.0,816.3 L523.2,816.6 L524.4,816.9 L525.6,817.2 L526.8,817.5 L528.0,817.7 L529.2,818.0 L529.8,818.1 L530.4,818.2 L531.6,818.4 L532.8,818.6 L534.0,818.8 L535.2,819.0 L536.5,819.2 L537.7,819.3 L538.8,819.4 L539.1,819.5 L540.4,819.6 L541.9,819.7 L543.4,819.8 L545.0,819.9 L546.7,820.0 L548.5,820.0 L550.4,820.1 L552.0,820.1 L553.0,820.1 L558.3,820.1 L563.6,820.1 L568.9,820.1 L574.1,820.1 L579.4,820.1 L584.7,820.1 L590.0,820.1 L595.3,820.1 L600.5,820.1 L605.8,820.1 L611.1,820.1 L616.4,820.1 L621.7,820.1 L626.9,820.1 L632.2,820.1 L637.5,820.1 L642.8,820.1 L648.0,820.1 L653.3,820.1 L658.6,820.1 L663.9,820.1 L669.2,820.1 L674.4,820.1 L679.7,820.1 L685.0,820.1 L690.3,820.1 L695.6,820.1 L700.0,820.1 L701.0,820.1 L707.2,820.1 L713.5,820.1 L719.7,820.1 L726.0,820.1 L732.2,820.1 L738.4,820.1 L744.7,820.1 L750.9,820.1 L757.2,820.1 L763.4,820.1 L769.7,820.1 L775.9,820.1 L782.1,820.1 L788.4,820.1 L794.6,820.1 L800.9,820.1 L807.1,820.1 L813.4,820.1 L819.6,820.1 L825.8,820.1 L832.1,820.1 L838.3,820.1 L844.6,820.1 L850.8,820.1 L857.1,820.1 L863.3,820.1 L869.5,820.1 L875.8,820.1 L882.0,820.1 L888.3,820.1 L894.5,820.1 L900.8,820.1 L907.0,820.1" stroke="#ffff00"/>
<path d="M152.6,820.1 L153.5,820.1 L154.5,820.1 L155.4,820.1 L156.3,820.1 L157.2,820.1 L158.0,820.1 L158.1,820.1 L158.8,820.1 L159.5,820.0 L160.1,820.0 L160.4,819.9 L160.8,819.9 L161.4,819.8 L162.0,819.7 L162.6,819.5 L163.0,819.4 L163.2,819.4 L163.8,819.2 L164.4,819.0 L165.1,818.8 L165.7,818.6 L165.9,818.5 L166.4,818.3 L167.1,818.0 L167.7,817.7 L168.4,817.4 L168.9,817.1 L169.1,817.0 L169.7,816.6 L170.4,816.2 L171.0,815.7 L171.6,815.2 L172.0,815.0 L172.3,814.7 L172.9,814.2 L173.5,813.6 L174.1,813.1 L174.6,812.4 L175.1,812.0 L175.2,811.8 L175.7,811.1 L176.3,810.5 L176.8,809.7 L177.3,809.0 L177.8,808.3 L178.1,808.0 L178.3,807.5 L178.8,806.7 L179.3,805.9 L179.8,805.1 L180.3,804.3 L180.8,803.4 L181.0,803.0 L181.2,802.5 L181.7,801.7 L182.2,800.8 L182.6,799.9 L183.1,799.0 L183.6,798.1 L184.0,797.2 L184.0,797.1 L184.5,796.2 L184.9,795.3 L185.4,794.3 L185.9,793.4 L186.3,792.5 L186.8,791.5 L187.0,791.2 L187.3,790.6 L187.7,789.6 L188.2,788.7 L188.7,787.8 L189.2,786.9 L189.7,786.0 L190.0,785.4 L190.2,785.1 L190.7,784.3 L191.2,783.6 L191.8,782.8 L192.3,782.2 L192.9,781.5 L193.1,781.3 L193.4,781.0 L194.0,780.5 L194.6,780.0 L195.2,779.7 L195.9,779.4 L196.0,779.4 L196.5,779.2 L197.2,779.2 L197.8,779.1 L198.5,779.2 L198.9,779.3 L199.2,779.4 L199.8,779.6 L200.5,779.9 L201.1,780.4 L201.7,780.8 L202.0,781.1 L202.3,781.4 L202.9,782.0 L203.5,782.7 L204.0,783.5 L204.5,784.3 L205.0,785.1 L205.1,785.2 L205.5,786.0 L206.0,786.9 L206.4,787.8 L206.9,788.7 L207.3,789.7 L207.8,790.6 L208.0,790.9 L208.3,791.5 L208.7,792.4 L209.2,793.3 L209.6,794.2 L210.1,795.1 L210.6,796.0 L211.0,796.7 L211.0,796.9 L211.5,797.8 L212.0,798.7 L212.5,799.6 L212.9,800.5 L213.4,801.3 L213.9,802.2 L214.0,802.5 L214.4,803.1 L214.9,804.0 L215.4,804.9 L215.9,805.7 L216.4,806.5 L216.9,807.3 L217.1,807.6 L217.4,808.1 L217.9,808.9 L218.4,809.7 L218.9,810.4 L219.4,811.1 L220.0,811.7 L220.0,811.8 L220.5,812.4 L221.0,813.0 L221.6,813.6 L222.2,814.2 L222.8,814.7 L222.9,814.9 L223.4,815.2 L224.0,815.7 L224.6,816.2 L225.3,816.6 L225.9,817.0 L226.0,817.0 L226.6,817.4 L227.3,817.7 L228.0,818.0 L228.7,818.3 L229.2,818.4 L229.4,818.5 L230.1,818.7 L230.8,818.9 L231.4,819.1 L232.0,819.3 L232.1,819.3 L232.6,819.4 L233.2,819.6 L233.7,819.7 L234.3,819.8 L234.6,819.8 L235.0,819.9 L235.7,819.9 L236.5,820.0 L237.5,820.0 L238.6,820.1 L239.9,820.1 L240.0,820.1 L242.3,820.1 L244.8,820.1 L247.3,820.1 L249.9,820.1 L252.4,820.1 L254.9,820.1 L257.4,820.1 L259.9,820.1 L262.5,820.1 L265.0,820.1 L267.5,820.1 L270.0,820.1 L272.5,820.1 L275.0,820.1 L277.6,820.1 L280.0,820.1 L280.1,820.1 L282.7,820.1 L285.2,820.1 L287.8,820.1 L290.4,820.1 L293.0,820.1 L295.6,820.1 L298.2,820.1 L300.7,820.1 L303.3,820.1 L305.9,820.1 L308.5,820.1 L311.1,820.1 L313.6,820.1 L316.2,820.1 L318.8,820.1 L321.4,820.1 L322.0,820.1 L322.9,820.1 L323.8,820.0 L324.6,820.0 L325.3,819.9 L326.0,819.8 L326.2,819.8 L326.7,819.7 L327.4,819.6 L328.1,819.4 L328.8,819.1 L329.6,818.9 L329.9,818.7 L330.4,818.5 L331.2,818.1 L332.1,817.6 L332.9,817.0 L333.7,816.3 L334.5,815.6 L334.9,815.1 L335.3,814.7 L336.0,813.8 L336.6,812.8 L337.3,811.7 L337.9,810.6 L338.5,809.3 L339.0,808.1 L339.6,806.7 L340.1,805.4 L340.1,805.3 L340.6,803.9 L341.2,802.5 L341.7,801.0 L342.2,799.5 L342.6,797.9 L343.1,796.4 L343.6,794.8 L344.1,793.2 L344.5,791.5 L345.0,789.9 L345.0,789.9 L345.4,788.2 L345.9,786.5 L346.3,784.8 L346.8,783.1 L347.2,781.4 L347.6,779.7 L348.0,778.0 L348.4,776.3 L348.8,774.6 L349.2,772.9 L349.6,771.2 L349.8,770.6 L350.0,769.5 L350.4,767.9 L350.8,766.2 L351.2,764.6 L351.6,762.9 L351.9,761.3 L352.3,759.7 L352.7,758.1 L353.0,756.5 L353.4,755.0 L353.4,754.7 L353.7,753.5 L354.1,752.0 L354.4,750.5 L354.7,749.0 L355.1,747.6 L355.4,746.1 L355.7,744.7 L356.0,743.4 L356.3,742.0 L356.6,740.7 L356.6,740.6 L356.9,739.4 L357.2,738.2 L357.5,736.9 L357.7,735.7 L358.0,734.5 L358.3,733.4 L358.5,732.3 L358.6,732.0 L358.8,731.2 L359.0,730.1 L359.2,729.1 L359.4,728.0 L359.7,727.0 L359.9,726.0 L360.1,725.0 L360.1,725.0 L360.3,724.0 L360.5,723.0 L360.7,722.0 L360.9,721.0 L361.1,719.9 L361.3,718.9 L361.5,717.8 L361.5,717.7 L361.7,716.7 L361.9,715.6 L362.1,714.4 L362.3,713.3 L362.6,712.1 L362.8,710.9 L363.0,709.9 L363.0,709.7 L363.2,708.5 L363.4,707.3 L363.7,706.1 L363.9,704.8 L364.2,703.6 L364.4,702.4 L364.7,701.2 L364.9,700.2 L364.9,700.0 L365.2,698.8 L365.5,697.6 L365.8,696.5 L366.1,695.4 L366.4,694.2 L366.7,693.2 L367.0,692.1 L367.1,692.0 L367.4,691.1 L367.7,690.1 L368.1,689.1 L368.4,688.1 L368.8,687.2 L369.2,686.3 L369.6,685.5 L369.6,685.4 L370.0,684.5 L370.4,683.6 L370.8,682.8 L371.2,681.9 L371.7,681.1 L372.0,680.4 L372.1,680.3 L372.5,679.5 L372.9,678.6 L373.4,677.8 L373.8,677.0 L374.2,676.1 L374.5,675.7 L374.7,675.3 L375.1,674.5 L375.5,673.6 L376.0,672.7 L376.4,671.8 L376.8,670.9 L376.9,670.7 L377.2,669.9 L377.7,668.9 L378.1,667.9 L378.5,666.9 L378.9,665.7 L379.2,664.6 L379.6,663.4 L380.0,662.1 L380.1,661.6 L380.3,660.8 L380.6,659.4 L380.9,658.0 L381.2,656.5 L381.5,655.1 L381.8,653.7 L382.1,652.3 L382.3,651.0 L382.5,650.0 L382.5,649.8 L382.7,648.6 L383.0,647.4 L383.2,646.3 L383.4,645.2 L383.6,644.1 L383.9,642.8 L384.2,641.5 L384.5,640.3 L384.6,640.0 L384.9,638.4 L385.4,636.7 L385.9,634.9 L386.4,632.9 L386.9,630.8 L387.5,628.6 L388.0,626.4 L388.6,624.1 L389.2,621.7 L389.8,619.3 L390.4,616.8 L391.0,614.4 L391.6,611.9 L392.1,610.0 L392.2,609.4 L392.7,606.9 L393.3,604.4 L393.8,601.9 L394.3,599.5 L394.7,597.0 L395.2,594.6 L395.6,592.2 L396.1,589.9 L396.5,587.5 L396.9,585.2 L397.3,582.9 L397.7,580.6 L398.1,578.4 L398.5,576.2 L398.8,574.0 L398.9,573.6 L399.2,571.9 L399.6,569.8 L399.9,567.7 L400.3,565.7 L400.6,563.7 L401.0,561.8 L401.3,560.0 L401.7,558.1 L402.1,556.4 L402.4,554.7 L402.8,553.0 L403.1,551.8 L403.2,551.4 L403.6,549.9 L404.0,548.5 L404.4,547.1 L404.8,545.7 L405.2,544.4 L405.7,543.2 L406.1,542.1 L406.6,541.0 L406.9,540.3 L407.1,540.0 L407.6,539.0 L408.1,538.2 L408.7,537.5 L409.2,537.0 L409.8,536.8 L410.0,536.7 L410.3,536.7 L410.9,536.9 L411.5,537.4 L412.0,538.0 L412.6,538.7 L413.1,539.6 L413.1,539.6 L413.6,540.6 L414.1,541.6 L414.6,542.7 L415.1,543.9 L415.6,545.2 L416.1,546.6 L416.5,548.0 L416.9,549.0 L417.0,549.5 L417.4,551.0 L417.9,552.6 L418.3,554.2 L418.7,555.9 L419.1,557.7 L419.5,559.5 L419.9,561.3 L420.3,563.2 L420.7,565.1 L421.1,567.0 L421.5,568.7 L421.5,568.9 L421.9,570.9 L422.3,572.9 L422.6,575.0 L423.0,577.0 L423.4,579.0 L423.8,581.1 L424.1,583.2 L424.5,585.2 L424.9,587.3 L425.2,589.4 L425.6,591.4 L426.0,593.5 L426.4,595.5 L426.5,596.4 L426.7,597.5 L427.1,599.5 L427.5,601.5 L427.9,603.4 L428.3,605.4 L428.6,607.3 L429.0,609.3 L429.4,611.2 L429.8,613.1 L430.2,615.0 L430.6,616.9 L431.0,618.8 L431.1,619.6 L431.4,620.7 L431.7,622.7 L432.1,624.6 L432.5,626.5 L432.9,628.4 L433.3,630.4 L433.7,632.3 L434.0,634.3 L434.4,636.3 L434.8,638.2 L435.2,640.3 L435.5,642.3 L435.9,644.3 L436.0,645.0 L436.3,646.4 L436.6,648.5 L437.0,650.6 L437.4,652.8 L437.7,655.0 L438.1,657.2 L438.5,659.5 L438.9,661.8 L439.3,664.1 L439.7,666.5 L440.2,669.0 L440.7,671.5 L441.2,674.1 L441.7,676.7 L442.2,679.4 L442.4,680.3 L442.8,682.2 L443.4,685.0 L444.0,687.9 L444.7,690.8 L445.3,693.8 L446.0,696.7 L446.7,699.6 L447.3,702.5 L448.0,705.4 L448.7,708.3 L449.3,711.0 L450.0,713.7 L450.6,716.3 L451.1,718.9 L451.7,721.3 L452.2,723.6 L452.7,725.7 L453.0,727.2 L453.1,727.7 L453.5,729.5 L453.8,731.2 L454.1,732.8 L454.4,734.4 L454.7,735.8 L455.0,737.2 L455.3,738.6 L455.5,740.0 L455.8,741.4 L456.0,742.2 L456.2,742.9 L456.5,744.4 L456.9,746.0 L457.3,747.6 L457.7,749.2 L458.1,750.9 L458.5,752.5 L458.9,754.1 L459.3,755.6 L459.7,757.2 L459.9,758.2 L460.0,758.6 L460.3,760.0 L460.6,761.3 L460.9,762.6 L461.2,763.8 L461.4,765.0 L461.7,766.2 L461.9,767.3 L462.1,768.1 L462.2,768.4 L462.4,769.5 L462.7,770.6 L462.9,771.7 L463.2,772.8 L463.5,773.9 L463.7,775.0 L464.0,776.0 L464.0,776.1 L464.3,777.1 L464.6,778.2 L464.9,779.2 L465.2,780.3 L465.5,781.3 L465.8,782.3 L465.9,782.9 L466.1,783.3 L466.4,784.4 L466.7,785.4 L467.0,786.3 L467.3,787.3 L467.6,788.3 L467.9,789.2 L468.0,789.3 L468.3,790.2 L468.6,791.1 L468.9,792.1 L469.2,793.0 L469.6,793.9 L469.9,794.8 L470.0,795.1 L470.2,795.7 L470.6,796.6 L470.9,797.4 L471.3,798.3 L471.6,799.1 L472.0,800.0 L472.0,800.2 L472.3,800.8 L472.7,801.6 L473.0,802.4 L473.4,803.2 L473.7,804.0 L474.0,804.6 L474.1,804.8 L474.5,805.5 L474.9,806.2 L475.2,807.0 L475.6,807.7 L476.0,808.2 L476.0,808.3 L476.4,809.0 L476.8,809.7 L477.3,810.3 L477.7,810.9 L478.0,811.3 L478.1,811.5 L478.6,812.1 L479.1,812.7 L479.5,813.2 L480.0,813.7 L480.1,813.8 L480.6,814.2 L481.1,814.7 L481.7,815.2 L482.3,815.6 L482.9,816.1 L482.9,816.1 L483.6,816.5 L484.2,816.8 L484.9,817.2 L485.7,817.6 L486.1,817.8 L486.4,817.9 L487.1,818.2 L487.8,818.5 L488.6,818.7 L489.3,819.0 L489.9,819.2 L490.0,819.2 L490.7,819.4 L491.4,819.6 L492.3,819.7 L493.3,819.9 L494.5,820.0 L496.0,820.1 L496.0,820.1 L501.6,820.1 L507.3,820.1 L513.0,820.1 L518.7,820.1 L524.4,820.1 L530.0,820.1 L535.7,820.1 L541.4,820.1 L547.1,820.1 L552.8,820.1 L558.5,820.1 L564.2,820.1 L569.9,820.1 L575.6,820.1 L581.2,820.1 L586.9,820.1 L592.6,820.1 L598.3,820.1 L604.0,820.1 L609.7,820.1 L615.4,820.1 L621.1,820.1 L626.8,820.1 L632.4,820.1 L638.1,820.1 L643.8,820.1 L649.5,820.1 L655.2,820.1 L660.9,820.1 L666.6,820.1 L672.3,820.1 L677.9,820.1 L683.6,820.1 L689.3,820.1 L695.0,820.1 L700.0,820.1 L700.7,820.1 L706.4,820.1 L712.2,820.1 L717.9,820.1 L723.6,820.1 L729.4,820.1 L735.1,820.1 L740.8,820.1 L746.6,820.1 L752.3,820.1 L758.0,820.1 L763.7,820.1 L769.5,820.1 L775.2,820.1 L780.9,820.1 L786.7,820.1 L792.4,820.1 L798.1,820.1 L803.9,820.1 L809.6,820.1 L815.3,820.1 L821.0,820.1 L826.8,820.1 L832.5,820.1 L838.2,820.1 L844.0,820.1 L849.7,820.1 L855.4,820.1 L861.2,820.1 L866.9,820.1 L872.6,820.1 L878.3,820.1 L884.1,820.1 L889.8,820.1 L895.5,820.1 L901.3,820.1 L907.0,820.1" stroke="#bebebe"/>
<path d="M152.6,820.1 L158.9,820.1 L165.1,820.1 L171.4,820.1 L177.6,820.1 L183.9,820.1 L190.1,820.1 L196.4,820.1 L202.6,820.1 L208.9,820.1 L215.1,820.1 L221.4,820.1 L227.6,820.1 L233.9,820.1 L240.1,820.1 L246.4,820.1 L250.0,820.1 L253.0,820.1 L260.1,820.1 L267.2,820.1 L274.3,820.1 L281.4,820.1 L288.5,820.1 L295.7,820.1 L302.8,820.1 L309.9,820.1 L317.0,820.1 L324.1,820.1 L331.2,820.1 L338.3,820.1 L345.4,820.1 L352.5,820.1 L359.7,820.1 L366.8,820.1 L373.9,820.1 L376.0,820.1 L377.6,820.0 L379.3,819.9 L380.5,819.7 L381.4,819.5 L381.6,819.4 L382.6,819.0 L383.6,818.4 L384.6,817.7 L384.7,817.6 L385.5,816.9 L386.4,815.8 L387.2,814.6 L387.8,813.4 L388.0,813.2 L388.6,811.5 L389.2,809.8 L389.7,807.8 L390.1,805.7 L390.3,805.0 L390.5,803.5 L390.8,801.2 L391.1,798.9 L391.4,796.4 L391.6,794.0 L391.8,791.5 L391.9,790.3 L392.0,789.0 L392.2,786.5 L392.4,784.1 L392.5,781.6 L392.7,779.2 L392.9,776.7 L393.0,775.2 L393.0,774.3 L393.2,771.8 L393.4,769.4 L393.6,766.9 L393.7,764.5 L393.9,762.0 L394.1,760.2 L394.1,759.5 L394.3,757.1 L394.5,754.5 L394.7,751.8 L394.9,749.0 L395.1,746.1 L395.3,742.8 L395.5,740.1 L395.5,739.4 L395.7,735.6 L395.9,731.6 L396.1,727.4 L396.2,723.0 L396.4,718.5 L396.6,713.8 L396.8,709.1 L397.0,704.4 L397.2,699.7 L397.4,695.0 L397.6,690.5 L397.6,690.3 L397.8,685.8 L398.0,681.4 L398.2,677.1 L398.4,672.9 L398.6,668.8 L398.8,664.8 L399.1,660.9 L399.3,657.0 L399.5,653.3 L399.7,649.7 L399.7,649.6 L399.9,646.0 L400.2,642.5 L400.4,639.0 L400.6,635.6 L400.8,632.3 L401.0,629.0 L401.3,625.8 L401.5,622.6 L401.6,620.7 L401.7,619.5 L401.9,616.4 L402.1,613.4 L402.3,610.5 L402.5,607.7 L402.7,605.0 L402.9,602.5 L403.0,601.7 L403.1,600.2 L403.4,598.1 L403.6,596.6 L403.9,595.8 L404.0,595.7 L404.1,595.8 L404.4,596.7 L404.7,598.3 L405.0,600.3 L405.2,601.9 L405.3,602.6 L405.7,605.0 L406.1,607.5 L406.6,610.1 L407.0,612.8 L407.4,615.7 L407.8,618.8 L408.0,620.3 L408.2,622.0 L408.5,625.4 L408.8,628.9 L409.0,632.4 L409.2,636.0 L409.4,639.6 L409.6,643.1 L409.8,646.5 L410.0,649.8 L410.0,650.2 L410.2,652.9 L410.4,655.9 L410.6,658.7 L410.8,661.5 L411.0,664.2 L411.2,666.9 L411.5,669.6 L411.5,670.2 L411.7,672.4 L411.9,675.2 L412.1,677.9 L412.3,680.5 L412.5,683.0 L412.7,685.3 L412.8,686.4 L412.9,687.4 L413.1,689.1 L413.3,690.3 L413.5,690.8 L413.5,690.8 L413.7,690.4 L413.9,689.3 L414.2,687.7 L414.3,686.4 L414.4,685.6 L414.7,683.3 L415.0,680.8 L415.2,678.1 L415.5,675.4 L415.8,672.7 L416.0,670.2 L416.0,670.0 L416.2,667.4 L416.4,664.8 L416.5,662.2 L416.6,659.5 L416.8,656.7 L416.9,653.6 L417.0,650.2 L417.0,650.2 L417.1,646.5 L417.3,642.5 L417.4,638.3 L417.6,633.8 L417.7,629.2 L417.9,624.5 L418.1,619.7 L418.2,614.9 L418.4,610.2 L418.5,605.5 L418.7,601.0 L418.7,600.2 L418.8,596.6 L418.9,592.4 L419.1,588.3 L419.2,584.2 L419.3,580.1 L419.4,575.9 L419.5,571.6 L419.6,567.2 L419.7,562.4 L419.9,557.4 L420.0,552.1 L420.0,550.2 L420.1,546.4 L420.2,540.2 L420.3,533.8 L420.4,527.1 L420.5,520.1 L420.6,513.0 L420.8,505.8 L420.9,498.5 L421.0,491.3 L421.1,484.1 L421.2,477.0 L421.3,470.0 L421.5,463.3 L421.6,456.9 L421.7,450.7 L421.8,445.0 L421.9,440.2 L421.9,439.7 L422.0,434.8 L422.1,430.4 L422.2,426.3 L422.3,422.4 L422.4,418.6 L422.5,415.0 L422.6,411.4 L422.7,407.6 L422.8,403.8 L422.9,400.2 L422.9,399.7 L423.0,395.3 L423.1,390.7 L423.1,385.9 L423.2,380.9 L423.3,375.8 L423.4,370.7 L423.4,365.5 L423.5,360.3 L423.6,355.2 L423.6,350.2 L423.7,345.4 L423.8,340.7 L423.8,340.2 L423.9,336.3 L424.0,332.1 L424.0,328.1 L424.1,324.2 L424.2,320.5 L424.3,316.9 L424.4,313.3 L424.5,309.8 L424.6,306.3 L424.6,304.2 L424.6,302.7 L424.7,299.1 L424.8,295.4 L424.9,291.7 L425.0,288.0 L425.0,284.2 L425.1,280.3 L425.2,276.4 L425.3,272.4 L425.4,268.4 L425.4,268.2 L425.5,264.4 L425.6,260.2 L425.7,256.1 L425.8,251.8 L425.9,247.5 L426.0,243.1 L426.1,238.7 L426.2,234.2 L426.3,229.6 L426.5,224.9 L426.6,220.2 L426.6,220.2 L426.7,215.3 L426.9,210.4 L427.0,205.5 L427.2,200.7 L427.3,195.9 L427.5,191.2 L427.6,186.7 L427.8,182.4 L427.9,178.2 L428.1,174.4 L428.3,170.8 L428.3,170.3 L428.4,167.6 L428.6,164.7 L428.8,162.1 L429.0,159.7 L429.2,157.5 L429.4,155.4 L429.5,154.8 L429.7,153.4 L429.9,151.7 L430.1,150.5 L430.4,150.0 L430.4,150.0 L430.6,150.3 L430.8,151.4 L431.0,153.1 L431.2,154.8 L431.2,154.9 L431.3,156.9 L431.5,159.0 L431.6,161.3 L431.7,163.9 L431.8,166.8 L432.0,170.2 L432.0,170.3 L432.2,173.9 L432.4,178.1 L432.6,182.6 L432.9,187.3 L433.2,192.2 L433.5,197.1 L433.7,201.9 L434.0,206.7 L434.3,211.2 L434.5,215.5 L434.8,219.4 L434.8,220.1 L435.0,222.8 L435.1,225.8 L435.3,228.5 L435.4,231.1 L435.6,233.5 L435.7,235.9 L435.8,238.2 L435.8,238.4 L436.0,241.2 L436.1,244.0 L436.3,247.0 L436.4,250.0 L436.6,253.1 L436.8,256.1 L436.9,259.1 L437.0,259.8 L437.1,261.9 L437.3,264.7 L437.5,267.3 L437.7,269.9 L438.0,272.3 L438.2,274.7 L438.4,276.4 L438.5,277.0 L438.8,279.2 L439.1,281.4 L439.5,283.5 L439.8,285.6 L440.2,287.6 L440.2,287.7 L440.5,289.7 L440.9,291.8 L441.3,293.8 L441.6,295.8 L441.9,297.9 L442.0,298.2 L442.2,299.9 L442.5,302.0 L442.7,304.1 L442.9,306.3 L443.2,308.4 L443.3,309.9 L443.4,310.6 L443.5,312.9 L443.7,315.1 L443.8,317.4 L444.0,319.7 L444.1,322.1 L444.1,322.4 L444.2,324.5 L444.3,326.9 L444.5,329.4 L444.6,332.0 L444.7,334.8 L444.9,337.6 L445.0,340.1 L445.1,340.6 L445.3,343.7 L445.5,347.0 L445.7,350.4 L446.0,353.8 L446.2,357.3 L446.5,360.7 L446.7,364.1 L446.9,367.5 L446.9,368.2 L447.0,370.8 L447.1,373.9 L447.2,377.1 L447.3,380.1 L447.3,383.2 L447.4,386.2 L447.4,389.3 L447.5,392.2 L447.5,392.4 L447.6,395.5 L447.7,398.7 L447.9,401.9 L448.0,405.1 L448.2,408.2 L448.3,411.3 L448.4,414.2 L448.5,416.2 L448.5,417.1 L448.6,419.8 L448.7,422.5 L448.8,425.2 L448.8,428.1 L448.9,431.2 L448.9,434.7 L449.0,438.5 L449.0,440.2 L449.0,442.8 L449.1,447.6 L449.2,452.8 L449.3,458.3 L449.4,464.1 L449.4,470.1 L449.5,476.3 L449.6,482.5 L449.7,488.8 L449.8,494.9 L449.9,501.0 L450.0,506.8 L450.1,512.3 L450.2,517.5 L450.2,520.2 L450.2,522.4 L450.3,526.8 L450.4,530.9 L450.4,534.7 L450.5,538.4 L450.5,542.1 L450.6,545.8 L450.7,549.6 L450.8,553.6 L450.8,557.8 L450.9,560.2 L451.0,562.5 L451.1,567.5 L451.2,572.9 L451.4,578.5 L451.5,584.4 L451.7,590.4 L451.8,596.5 L452.0,602.7 L452.2,608.8 L452.3,614.8 L452.5,620.8 L452.6,626.5 L452.8,631.9 L452.9,637.1 L453.0,640.2 L453.0,641.8 L453.1,646.2 L453.2,650.3 L453.3,654.2 L453.4,657.9 L453.5,661.6 L453.6,665.3 L453.7,669.1 L453.7,673.1 L453.8,677.4 L453.9,680.2 L453.9,682.0 L454.1,687.0 L454.2,692.2 L454.3,697.6 L454.5,703.2 L454.6,708.7 L454.7,714.2 L454.9,719.5 L455.0,724.5 L455.2,729.3 L455.3,733.6 L455.4,737.3 L455.5,740.1 L455.5,740.5 L455.6,743.0 L455.7,745.1 L455.8,747.0 L455.9,748.8 L456.0,750.4 L456.0,750.8 L456.2,753.0 L456.4,755.6 L456.6,758.3 L456.8,761.2 L457.0,764.1 L457.3,767.1 L457.5,769.8 L457.5,770.0 L457.7,772.8 L457.9,775.5 L458.0,778.2 L458.2,780.7 L458.4,783.2 L458.6,785.6 L458.6,785.7 L458.7,788.0 L458.9,790.3 L459.1,792.6 L459.4,794.9 L459.6,797.2 L459.9,799.4 L459.9,799.8 L460.2,801.6 L460.5,803.9 L460.9,806.0 L461.4,808.0 L461.8,809.9 L462.0,810.3 L462.4,811.6 L463.0,813.1 L463.5,814.5 L463.9,815.4 L464.0,815.6 L464.3,816.7 L464.8,817.5 L465.3,818.3 L465.4,818.4 L466.2,818.9 L467.5,819.5 L469.2,820.0 L470.0,820.1 L474.7,820.1 L482.0,820.1 L489.2,820.1 L496.4,820.1 L503.6,820.1 L510.9,820.1 L518.1,820.1 L525.3,820.1 L532.5,820.1 L539.8,820.1 L547.0,820.1 L554.2,820.1 L561.4,820.1 L568.6,820.1 L575.9,820.1 L583.1,820.1 L590.3,820.1 L597.5,820.1 L600.0,820.1 L607.3,820.1 L618.4,820.1 L629.5,820.1 L640.6,820.1 L651.7,820.1 L662.8,820.1 L673.9,820.1 L685.0,820.1 L696.1,820.1 L707.2,820.1 L718.3,820.1 L729.4,820.1 L740.5,820.1 L751.6,820.1 L762.7,820.1 L773.8,820.1 L784.9,820.1 L796.0,820.1 L807.1,820.1 L818.2,820.1 L829.3,820.1 L840.4,820.1 L851.5,820.1 L862.6,820.1 L873.7,820.1 L884.8,820.1 L895.9,820.1 L907.0,820.1" stroke="#ff0000" stroke-dasharray="6.25 6.25"/>
</g>
<g fill="none" stroke="#000" stroke-width="1.5625" stroke-linecap="round" stroke-linejoin="round">
<path d="M198.9,846.9 L839.7,846.9"/>
<path d="M198.9,846.9 L198.9,861.9"/>
<path d="M305.7,846.9 L305.7,861.9"/>
<path d="M412.5,846.9 L412.5,861.9"/>
<path d="M519.3,846.9 L519.3,861.9"/>
<path d="M626.1,846.9 L626.1,861.9"/>
<path d="M732.9,846.9 L732.9,861.9"/>
<path d="M839.7,846.9 L839.7,861.9"/>
<path d="M123,820.1 L123,213.95"/>
<path d="M123,820.1 L108,820.1"/>
<path d="M123,618.05 L108,618.05"/>
<path d="M123,416.0 L108,416.0"/>
<path d="M123,213.95 L108,213.95"/>
<rect x="123" y="123" width="814" height="723.9"/>
</g>
<g font-size="25px" text-anchor="middle">
<text x="198.9" y="901">-4</text>
<text x="305.7" y="901">-2</text>
<text x="412.5" y="901">0</text>
<text x="519.3" y="901">2</text>
<text x="626.1" y="901">4</text>
<text x="732.9" y="901">6</text>
<text x="839.7" y="901">8</text>
<text transform="translate(87,820.8000000000001) rotate(-90)">0.0</text>
<text transform="translate(87,618.75) rotate(-90)">0.5</text>
<text transform="translate(87,416.7) rotate(-90)">1.0</text>
<text transform="translate(87,214.64999999999998) rotate(-90)">1.5</text>
<text x="529.8" y="961.3" style="word-spacing:1.5px">log2 ratio</text>
<text transform="translate(27,486.3) rotate(-90)">density</text>
</g>
<text transform="translate(209.6,73) scale(1,1.1)" font-size="30px" font-weight="bold" textLength="642.5" lengthAdjust="spacingAndGlyphs">number read ratio WT_37C_Ter_1/WT_37C_2</text>
<g fill="none" stroke-width="1.5625" stroke-linecap="round">
<path d="M145.6,153 L190.4,153" stroke="#000000"/>
<path d="M145.6,183 L190.4,183" stroke="#ff0000"/>
<path d="M145.6,213 L190.4,213" stroke="#00cd00"/>
<path d="M145.6,243 L190.4,243" stroke="#0000ff"/>
<path d="M145.6,273 L190.4,273" stroke="#00ffff"/>
<path d="M145.6,303 L190.4,303" stroke="#ff00ff"/>
<path d="M145.6,333 L190.4,333" stroke="#ffff00"/>
<path d="M145.6,363 L190.4,363" stroke="#bebebe"/>
<path d="M145.6,393 L190.4,393" stroke="#ff0000" stroke-dasharray="6.25 6.25"/>
</g>
<g font-size="25px">
<text x="213" y="163.4">gene <tspan x="275.7">(sd=0.51)</tspan></text>
<text x="213" y="193.4">XUT <tspan x="269.7">(sd=0.54)</tspan></text>
<text x="213" y="223.4">NUT <tspan x="270.4">(sd=0.59)</tspan></text>
<text x="213" y="253.4">CUT <tspan x="270.4">(sd=0.7)</tspan></text>
<text x="213" y="283.4">SUT <tspan x="269.7">(sd=0.45)</tspan></text>
<text x="213" y="313.4">tRNA <tspan x="280.0">(sd=0.7)</tspan></text>
<text x="213" y="343.4">snoRNA <tspan x="314.8">(sd=1.67)</tspan></text>
<text x="213" y="373.4">ncRNA <tspan x="300.4">(sd=1.12)</tspan></text>
<text x="213" y="403.4">snRNA <tspan x="300.4">(sd=0.27)</tspan></text>
</g>
</svg></body></html>
